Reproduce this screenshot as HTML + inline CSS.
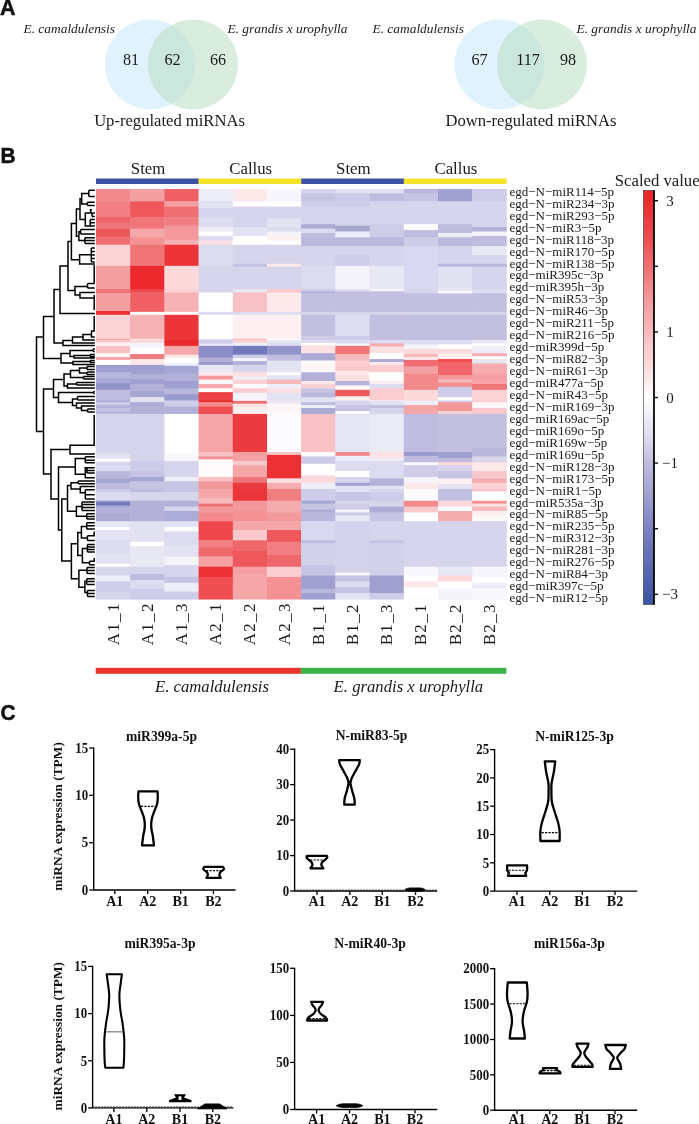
<!DOCTYPE html>
<html><head><meta charset="utf-8"><style>
html,body{margin:0;padding:0;background:#fff;width:699px;height:1124px;overflow:hidden}
svg{display:block;will-change:transform}
</style></head><body>
<svg width="699" height="1124" viewBox="0 0 699 1124">
<rect width="699" height="1124" fill="#fff"/>
<text x="0" y="15.4" font-family='"Liberation Sans", sans-serif' font-size="21.5" font-weight="bold" fill="#111" stroke="#111" stroke-width="0.5" transform="scale(1.0,1)">A</text>
<text x="0.5" y="163" font-family='"Liberation Sans", sans-serif' font-size="22" font-weight="bold" fill="#111" stroke="#111" stroke-width="0.5" transform="scale(0.95,1)">B</text>
<text x="0.5" y="720.5" font-family='"Liberation Sans", sans-serif' font-size="22" font-weight="bold" fill="#111" stroke="#111" stroke-width="0.5" transform="scale(0.95,1)">C</text>
<circle cx="150" cy="64.5" r="45" fill="#e0f2fd"/>
<circle cx="193" cy="64.5" r="45" fill="#d9edde" />
<path d="M171.5 24.96836709671608 A45 45 0 0 1 171.5 104.03163290328392 A45 45 0 0 1 171.5 24.96836709671608Z" fill="#cbe7dd"/>
<text x="131" y="65.4" font-family='"Liberation Serif", serif' font-size="16.2" fill="#1a1a1a" text-anchor="middle">81</text>
<text x="172.5" y="65.4" font-family='"Liberation Serif", serif' font-size="16.2" fill="#1a1a1a" text-anchor="middle">62</text>
<text x="218" y="65.4" font-family='"Liberation Serif", serif' font-size="16.2" fill="#1a1a1a" text-anchor="middle">66</text>
<text x="169.5" y="125.5" font-family='"Liberation Serif", serif' font-size="16.6" fill="#1a1a1a" text-anchor="middle">Up-regulated miRNAs</text>
<circle cx="499.5" cy="64.5" r="45" fill="#e0f2fd"/>
<circle cx="542" cy="64.5" r="45" fill="#d9edde" />
<path d="M520.75 24.833420868443923 A45 45 0 0 1 520.75 104.16657913155608 A45 45 0 0 1 520.75 24.833420868443923Z" fill="#cbe7dd"/>
<text x="479.5" y="65.4" font-family='"Liberation Serif", serif' font-size="16.2" fill="#1a1a1a" text-anchor="middle">67</text>
<text x="528" y="65.4" font-family='"Liberation Serif", serif' font-size="16.2" fill="#1a1a1a" text-anchor="middle">117</text>
<text x="568" y="65.4" font-family='"Liberation Serif", serif' font-size="16.2" fill="#1a1a1a" text-anchor="middle">98</text>
<text x="531" y="125.5" font-family='"Liberation Serif", serif' font-size="16.6" fill="#1a1a1a" text-anchor="middle">Down-regulated miRNAs</text>
<text x="23.5" y="33.2" font-family='"Liberation Serif", serif' font-style="italic" font-size="13.4" fill="#1a1a1a">E. camaldulensis</text>
<text x="227.5" y="33.2" font-family='"Liberation Serif", serif' font-style="italic" font-size="13.4" fill="#1a1a1a">E. grandis x urophylla</text>
<text x="372.5" y="33.2" font-family='"Liberation Serif", serif' font-style="italic" font-size="13.4" fill="#1a1a1a">E. camaldulensis</text>
<text x="576.5" y="33.2" font-family='"Liberation Serif", serif' font-style="italic" font-size="13.4" fill="#1a1a1a">E. grandis x urophylla</text>
<rect x="96.0" y="189.0" width="410.4" height="410.20000000000005" fill="#d6d5ec"/>
<rect x="96.00" y="189.00" width="34.50" height="12.62" fill="#f2898b"/>
<rect x="96.00" y="201.32" width="34.50" height="15.84" fill="#f17f82"/>
<rect x="96.00" y="216.86" width="34.50" height="6.17" fill="#ef676b"/>
<rect x="96.00" y="222.72" width="34.50" height="6.17" fill="#f07579"/>
<rect x="96.00" y="228.59" width="34.50" height="9.10" fill="#ee575b"/>
<rect x="96.00" y="237.39" width="34.50" height="7.63" fill="#ef6e72"/>
<rect x="96.00" y="244.72" width="34.50" height="21.41" fill="#fbd3d5"/>
<rect x="96.00" y="265.83" width="34.50" height="23.47" fill="#f4a0a3"/>
<rect x="130.20" y="189.00" width="34.50" height="12.62" fill="#f4a0a3"/>
<rect x="130.20" y="201.32" width="34.50" height="15.84" fill="#ee575b"/>
<rect x="130.20" y="216.86" width="34.50" height="12.03" fill="#f07579"/>
<rect x="130.20" y="228.59" width="34.50" height="9.10" fill="#f5a6a9"/>
<rect x="130.20" y="237.39" width="34.50" height="7.63" fill="#f39193"/>
<rect x="130.20" y="244.72" width="34.50" height="21.41" fill="#f07579"/>
<rect x="130.20" y="265.83" width="34.50" height="23.47" fill="#ec2a2e"/>
<rect x="164.40" y="189.00" width="34.50" height="12.62" fill="#ee6064"/>
<rect x="164.40" y="201.32" width="34.50" height="5.58" fill="#f4a0a3"/>
<rect x="164.40" y="206.60" width="34.50" height="10.56" fill="#ef6e72"/>
<rect x="164.40" y="216.86" width="34.50" height="9.10" fill="#f17f82"/>
<rect x="164.40" y="225.66" width="34.50" height="14.96" fill="#f3989b"/>
<rect x="164.40" y="240.32" width="34.50" height="4.70" fill="#f6b2b5"/>
<rect x="164.40" y="244.72" width="34.50" height="21.41" fill="#ec3538"/>
<rect x="164.40" y="265.83" width="34.50" height="23.47" fill="#fcdadc"/>
<rect x="198.60" y="189.00" width="34.50" height="12.62" fill="#eeeef8"/>
<rect x="198.60" y="201.32" width="34.50" height="7.04" fill="#e2e2f2"/>
<rect x="198.60" y="208.06" width="34.50" height="9.10" fill="#d6d5ec"/>
<rect x="198.60" y="216.86" width="34.50" height="10.56" fill="#dcdbef"/>
<rect x="198.60" y="227.12" width="34.50" height="4.70" fill="#eeeef8"/>
<rect x="198.60" y="231.52" width="34.50" height="4.70" fill="#ffffff"/>
<rect x="198.60" y="235.92" width="34.50" height="4.70" fill="#dcdbef"/>
<rect x="198.60" y="240.32" width="34.50" height="4.70" fill="#fce1e3"/>
<rect x="198.60" y="244.72" width="34.50" height="21.41" fill="#dcdbef"/>
<rect x="198.60" y="265.83" width="34.50" height="23.47" fill="#d6d5ec"/>
<rect x="232.80" y="189.00" width="34.50" height="12.62" fill="#fde8ea"/>
<rect x="232.80" y="201.32" width="34.50" height="5.58" fill="#ffffff"/>
<rect x="232.80" y="206.60" width="34.50" height="20.83" fill="#d6d5ec"/>
<rect x="232.80" y="227.12" width="34.50" height="9.10" fill="#e2e2f2"/>
<rect x="232.80" y="235.92" width="34.50" height="9.10" fill="#ffffff"/>
<rect x="232.80" y="244.72" width="34.50" height="19.36" fill="#d6d5ec"/>
<rect x="232.80" y="263.78" width="34.50" height="3.23" fill="#c6c3e3"/>
<rect x="232.80" y="266.71" width="34.50" height="22.59" fill="#d6d5ec"/>
<rect x="267.00" y="189.00" width="34.50" height="12.62" fill="#f6f6fc"/>
<rect x="267.00" y="201.32" width="34.50" height="5.58" fill="#ffffff"/>
<rect x="267.00" y="206.60" width="34.50" height="12.03" fill="#d6d5ec"/>
<rect x="267.00" y="218.33" width="34.50" height="9.10" fill="#e2e2f2"/>
<rect x="267.00" y="227.12" width="34.50" height="4.70" fill="#dcdbef"/>
<rect x="267.00" y="231.52" width="34.50" height="4.70" fill="#f4f4fa"/>
<rect x="267.00" y="235.92" width="34.50" height="4.70" fill="#fef0f1"/>
<rect x="267.00" y="240.32" width="34.50" height="4.70" fill="#ffffff"/>
<rect x="267.00" y="244.72" width="34.50" height="19.36" fill="#d6d5ec"/>
<rect x="267.00" y="263.78" width="34.50" height="3.23" fill="#fde8ea"/>
<rect x="267.00" y="266.71" width="34.50" height="22.59" fill="#d6d5ec"/>
<rect x="301.20" y="189.00" width="34.50" height="4.70" fill="#d6d5ec"/>
<rect x="301.20" y="193.40" width="34.50" height="8.22" fill="#c6c3e3"/>
<rect x="301.20" y="201.32" width="34.50" height="5.58" fill="#cecce8"/>
<rect x="301.20" y="206.60" width="34.50" height="17.90" fill="#d6d5ec"/>
<rect x="301.20" y="224.19" width="34.50" height="4.70" fill="#acabd6"/>
<rect x="301.20" y="228.59" width="34.50" height="4.70" fill="#dcdbef"/>
<rect x="301.20" y="232.99" width="34.50" height="4.70" fill="#bfbcdf"/>
<rect x="301.20" y="237.39" width="34.50" height="9.10" fill="#b9b7dc"/>
<rect x="301.20" y="246.18" width="34.50" height="19.95" fill="#d6d5ec"/>
<rect x="301.20" y="265.83" width="34.50" height="23.47" fill="#dcdbef"/>
<rect x="335.40" y="189.00" width="34.50" height="4.70" fill="#e2e2f2"/>
<rect x="335.40" y="193.40" width="34.50" height="8.22" fill="#cecce8"/>
<rect x="335.40" y="201.32" width="34.50" height="5.58" fill="#cecce8"/>
<rect x="335.40" y="206.60" width="34.50" height="19.36" fill="#d6d5ec"/>
<rect x="335.40" y="225.66" width="34.50" height="6.17" fill="#a6a6d3"/>
<rect x="335.40" y="231.52" width="34.50" height="6.17" fill="#eeeef8"/>
<rect x="335.40" y="237.39" width="34.50" height="9.10" fill="#b9b7dc"/>
<rect x="335.40" y="246.18" width="34.50" height="9.10" fill="#d6d5ec"/>
<rect x="335.40" y="254.98" width="34.50" height="11.15" fill="#cecce8"/>
<rect x="335.40" y="265.83" width="34.50" height="23.47" fill="#f4f4fa"/>
<rect x="369.60" y="189.00" width="34.50" height="4.70" fill="#e2e2f2"/>
<rect x="369.60" y="193.40" width="34.50" height="8.22" fill="#bfbcdf"/>
<rect x="369.60" y="201.32" width="34.50" height="23.17" fill="#d6d5ec"/>
<rect x="369.60" y="224.19" width="34.50" height="13.50" fill="#cecce8"/>
<rect x="369.60" y="237.39" width="34.50" height="9.10" fill="#b9b7dc"/>
<rect x="369.60" y="246.18" width="34.50" height="19.95" fill="#d6d5ec"/>
<rect x="369.60" y="265.83" width="34.50" height="23.47" fill="#e8e8f5"/>
<rect x="403.80" y="189.00" width="34.50" height="4.70" fill="#b9b7dc"/>
<rect x="403.80" y="193.40" width="34.50" height="8.22" fill="#c6c3e3"/>
<rect x="403.80" y="201.32" width="34.50" height="23.17" fill="#d6d5ec"/>
<rect x="403.80" y="224.19" width="34.50" height="6.17" fill="#ffffff"/>
<rect x="403.80" y="230.06" width="34.50" height="7.63" fill="#bfbcdf"/>
<rect x="403.80" y="237.39" width="34.50" height="9.10" fill="#cecce8"/>
<rect x="403.80" y="246.18" width="34.50" height="43.12" fill="#d9d8ee"/>
<rect x="438.00" y="189.00" width="34.50" height="12.62" fill="#a0a0d0"/>
<rect x="438.00" y="201.32" width="34.50" height="23.17" fill="#d6d5ec"/>
<rect x="438.00" y="224.19" width="34.50" height="9.10" fill="#bfbcdf"/>
<rect x="438.00" y="232.99" width="34.50" height="4.70" fill="#eeeef8"/>
<rect x="438.00" y="237.39" width="34.50" height="9.10" fill="#b9b7dc"/>
<rect x="438.00" y="246.18" width="34.50" height="17.90" fill="#d6d5ec"/>
<rect x="438.00" y="263.78" width="34.50" height="3.23" fill="#b9b7dc"/>
<rect x="438.00" y="266.71" width="34.50" height="22.59" fill="#e2e2f2"/>
<rect x="472.20" y="189.00" width="34.50" height="12.62" fill="#cecce8"/>
<rect x="472.20" y="201.32" width="34.50" height="26.11" fill="#d6d5ec"/>
<rect x="472.20" y="227.12" width="34.50" height="4.70" fill="#b3b1d9"/>
<rect x="472.20" y="231.52" width="34.50" height="4.70" fill="#f4f4fa"/>
<rect x="472.20" y="235.92" width="34.50" height="10.56" fill="#bfbcdf"/>
<rect x="472.20" y="246.18" width="34.50" height="9.10" fill="#e8e8f5"/>
<rect x="472.20" y="254.98" width="34.50" height="9.10" fill="#d6d5ec"/>
<rect x="472.20" y="263.78" width="34.50" height="3.23" fill="#b9b7dc"/>
<rect x="472.20" y="266.71" width="34.50" height="22.59" fill="#d6d5ec"/>
<rect x="96.00" y="289.00" width="34.50" height="4.70" fill="#f07579"/>
<rect x="96.00" y="293.40" width="34.50" height="17.90" fill="#f4a0a3"/>
<rect x="96.00" y="310.99" width="34.50" height="4.11" fill="#ec3033"/>
<rect x="96.00" y="314.81" width="34.50" height="24.35" fill="#fbd3d5"/>
<rect x="96.00" y="338.85" width="34.50" height="3.82" fill="#f5a6a9"/>
<rect x="96.00" y="342.37" width="34.50" height="4.11" fill="#eeeef8"/>
<rect x="96.00" y="346.18" width="34.50" height="7.63" fill="#f8c1c4"/>
<rect x="96.00" y="353.52" width="34.50" height="4.70" fill="#fef0f1"/>
<rect x="96.00" y="357.91" width="34.50" height="4.70" fill="#f3989b"/>
<rect x="96.00" y="362.31" width="34.50" height="3.82" fill="#ffffff"/>
<rect x="96.00" y="365.83" width="34.50" height="7.04" fill="#a0a0d0"/>
<rect x="96.00" y="372.58" width="34.50" height="4.70" fill="#b3b1d9"/>
<rect x="96.00" y="376.98" width="34.50" height="6.17" fill="#a6a6d3"/>
<rect x="96.00" y="382.84" width="34.50" height="6.46" fill="#9294ca"/>
<rect x="130.20" y="289.00" width="34.50" height="3.23" fill="#ee474b"/>
<rect x="130.20" y="291.93" width="34.50" height="20.24" fill="#ee6064"/>
<rect x="130.20" y="311.87" width="34.50" height="3.23" fill="#ffffff"/>
<rect x="130.20" y="314.81" width="34.50" height="24.35" fill="#f6b2b5"/>
<rect x="130.20" y="338.85" width="34.50" height="3.82" fill="#fde8ea"/>
<rect x="130.20" y="342.37" width="34.50" height="4.11" fill="#eeeef8"/>
<rect x="130.20" y="346.18" width="34.50" height="3.23" fill="#fcdadc"/>
<rect x="130.20" y="349.12" width="34.50" height="4.70" fill="#ffffff"/>
<rect x="130.20" y="353.52" width="34.50" height="6.17" fill="#f17f82"/>
<rect x="130.20" y="359.38" width="34.50" height="4.70" fill="#fcdadc"/>
<rect x="130.20" y="363.78" width="34.50" height="2.35" fill="#ffffff"/>
<rect x="130.20" y="365.83" width="34.50" height="23.47" fill="#a6a6d3"/>
<rect x="164.40" y="289.00" width="34.50" height="3.82" fill="#fbd3d5"/>
<rect x="164.40" y="292.52" width="34.50" height="19.65" fill="#f6b2b5"/>
<rect x="164.40" y="311.87" width="34.50" height="3.23" fill="#ffffff"/>
<rect x="164.40" y="314.81" width="34.50" height="28.75" fill="#ec3538"/>
<rect x="164.40" y="343.25" width="34.50" height="4.70" fill="#f7b9bc"/>
<rect x="164.40" y="347.65" width="34.50" height="7.63" fill="#f5a6a9"/>
<rect x="164.40" y="354.98" width="34.50" height="3.23" fill="#fce1e3"/>
<rect x="164.40" y="357.91" width="34.50" height="4.70" fill="#fef7f8"/>
<rect x="164.40" y="362.31" width="34.50" height="3.82" fill="#eeeef8"/>
<rect x="164.40" y="365.83" width="34.50" height="23.47" fill="#a6a6d3"/>
<rect x="198.60" y="289.00" width="34.50" height="3.82" fill="#d6d5ec"/>
<rect x="198.60" y="292.52" width="34.50" height="19.65" fill="#ffffff"/>
<rect x="198.60" y="311.87" width="34.50" height="3.23" fill="#dcdbef"/>
<rect x="198.60" y="314.81" width="34.50" height="24.35" fill="#ffffff"/>
<rect x="198.60" y="338.85" width="34.50" height="3.82" fill="#e2e2f2"/>
<rect x="198.60" y="342.37" width="34.50" height="4.11" fill="#b9b7dc"/>
<rect x="198.60" y="346.18" width="34.50" height="12.03" fill="#8488c4"/>
<rect x="198.60" y="357.91" width="34.50" height="4.70" fill="#b3b1d9"/>
<rect x="198.60" y="362.31" width="34.50" height="3.82" fill="#d6d5ec"/>
<rect x="198.60" y="365.83" width="34.50" height="8.51" fill="#eeeef8"/>
<rect x="198.60" y="374.04" width="34.50" height="4.70" fill="#f6b2b5"/>
<rect x="198.60" y="378.44" width="34.50" height="4.70" fill="#ffffff"/>
<rect x="198.60" y="382.84" width="34.50" height="4.70" fill="#f5a6a9"/>
<rect x="198.60" y="387.24" width="34.50" height="2.06" fill="#ffffff"/>
<rect x="232.80" y="289.00" width="34.50" height="3.82" fill="#e8e8f5"/>
<rect x="232.80" y="292.52" width="34.50" height="19.65" fill="#f8c1c4"/>
<rect x="232.80" y="311.87" width="34.50" height="3.23" fill="#dcdbef"/>
<rect x="232.80" y="314.81" width="34.50" height="24.35" fill="#fef0f1"/>
<rect x="232.80" y="338.85" width="34.50" height="3.82" fill="#f7b9bc"/>
<rect x="232.80" y="342.37" width="34.50" height="4.11" fill="#dcdbef"/>
<rect x="232.80" y="346.18" width="34.50" height="7.63" fill="#6b73b8"/>
<rect x="232.80" y="353.52" width="34.50" height="4.70" fill="#b3b1d9"/>
<rect x="232.80" y="357.91" width="34.50" height="4.70" fill="#e2e2f2"/>
<rect x="232.80" y="362.31" width="34.50" height="3.82" fill="#acabd6"/>
<rect x="232.80" y="365.83" width="34.50" height="7.04" fill="#d6d5ec"/>
<rect x="232.80" y="372.58" width="34.50" height="4.70" fill="#fcdadc"/>
<rect x="232.80" y="376.98" width="34.50" height="6.17" fill="#e8e8f5"/>
<rect x="232.80" y="382.84" width="34.50" height="6.46" fill="#f9c8cb"/>
<rect x="267.00" y="289.00" width="34.50" height="3.82" fill="#f9c8cb"/>
<rect x="267.00" y="292.52" width="34.50" height="19.65" fill="#fde8ea"/>
<rect x="267.00" y="311.87" width="34.50" height="3.23" fill="#dcdbef"/>
<rect x="267.00" y="314.81" width="34.50" height="24.35" fill="#fef0f1"/>
<rect x="267.00" y="338.85" width="34.50" height="3.82" fill="#ffffff"/>
<rect x="267.00" y="342.37" width="34.50" height="4.11" fill="#bfbcdf"/>
<rect x="267.00" y="346.18" width="34.50" height="12.03" fill="#8b8ec7"/>
<rect x="267.00" y="357.91" width="34.50" height="4.70" fill="#b3b1d9"/>
<rect x="267.00" y="362.31" width="34.50" height="3.82" fill="#e2e2f2"/>
<rect x="267.00" y="365.83" width="34.50" height="8.51" fill="#e2e2f2"/>
<rect x="267.00" y="374.04" width="34.50" height="4.70" fill="#ffffff"/>
<rect x="267.00" y="378.44" width="34.50" height="4.70" fill="#e8e8f5"/>
<rect x="267.00" y="382.84" width="34.50" height="4.70" fill="#f5a6a9"/>
<rect x="267.00" y="387.24" width="34.50" height="2.06" fill="#eeeef8"/>
<rect x="301.20" y="289.00" width="34.50" height="2.65" fill="#cecce8"/>
<rect x="301.20" y="291.35" width="34.50" height="2.35" fill="#b3b1d9"/>
<rect x="301.20" y="293.40" width="34.50" height="18.78" fill="#c2bfe1"/>
<rect x="301.20" y="311.87" width="34.50" height="3.23" fill="#d6d5ec"/>
<rect x="301.20" y="314.81" width="34.50" height="21.41" fill="#c2bfe1"/>
<rect x="301.20" y="335.92" width="34.50" height="5.58" fill="#cecce8"/>
<rect x="301.20" y="341.20" width="34.50" height="5.29" fill="#f9f9fd"/>
<rect x="301.20" y="346.18" width="34.50" height="3.23" fill="#fce1e3"/>
<rect x="301.20" y="349.12" width="34.50" height="5.29" fill="#faced0"/>
<rect x="301.20" y="354.10" width="34.50" height="7.04" fill="#acabd6"/>
<rect x="301.20" y="360.85" width="34.50" height="4.11" fill="#fef0f1"/>
<rect x="301.20" y="364.66" width="34.50" height="6.75" fill="#ffffff"/>
<rect x="301.20" y="371.11" width="34.50" height="6.17" fill="#e2e2f2"/>
<rect x="301.20" y="376.98" width="34.50" height="4.70" fill="#bfbcdf"/>
<rect x="301.20" y="381.38" width="34.50" height="4.70" fill="#fcdadc"/>
<rect x="301.20" y="385.77" width="34.50" height="3.53" fill="#eeeef8"/>
<rect x="335.40" y="289.00" width="34.50" height="2.65" fill="#e2e2f2"/>
<rect x="335.40" y="291.35" width="34.50" height="20.83" fill="#c2bfe1"/>
<rect x="335.40" y="311.87" width="34.50" height="3.23" fill="#d6d5ec"/>
<rect x="335.40" y="314.81" width="34.50" height="21.41" fill="#dfdef0"/>
<rect x="335.40" y="335.92" width="34.50" height="9.10" fill="#cecce8"/>
<rect x="335.40" y="344.72" width="34.50" height="3.23" fill="#fbd3d5"/>
<rect x="335.40" y="347.65" width="34.50" height="6.75" fill="#f07579"/>
<rect x="335.40" y="354.10" width="34.50" height="7.04" fill="#f7b9bc"/>
<rect x="335.40" y="360.85" width="34.50" height="5.29" fill="#fcdadc"/>
<rect x="335.40" y="365.83" width="34.50" height="7.04" fill="#f9c8cb"/>
<rect x="335.40" y="372.58" width="34.50" height="4.70" fill="#fde8ea"/>
<rect x="335.40" y="376.98" width="34.50" height="4.70" fill="#fef7f8"/>
<rect x="335.40" y="381.38" width="34.50" height="4.70" fill="#b3b1d9"/>
<rect x="335.40" y="385.77" width="34.50" height="3.53" fill="#e2e2f2"/>
<rect x="369.60" y="289.00" width="34.50" height="2.65" fill="#f4f4fa"/>
<rect x="369.60" y="291.35" width="34.50" height="20.83" fill="#c2bfe1"/>
<rect x="369.60" y="311.87" width="34.50" height="3.23" fill="#d6d5ec"/>
<rect x="369.60" y="314.81" width="34.50" height="26.69" fill="#c2bfe1"/>
<rect x="369.60" y="341.20" width="34.50" height="5.29" fill="#f5acaf"/>
<rect x="369.60" y="346.18" width="34.50" height="9.10" fill="#fce1e3"/>
<rect x="369.60" y="354.98" width="34.50" height="4.70" fill="#ffffff"/>
<rect x="369.60" y="359.38" width="34.50" height="3.23" fill="#a0a0d0"/>
<rect x="369.60" y="362.31" width="34.50" height="3.82" fill="#fde8ea"/>
<rect x="369.60" y="365.83" width="34.50" height="7.04" fill="#f9c8cb"/>
<rect x="369.60" y="372.58" width="34.50" height="9.10" fill="#ffffff"/>
<rect x="369.60" y="381.38" width="34.50" height="4.70" fill="#dcdbef"/>
<rect x="369.60" y="385.77" width="34.50" height="3.53" fill="#fef0f1"/>
<rect x="403.80" y="289.00" width="34.50" height="4.70" fill="#d6d5ec"/>
<rect x="403.80" y="293.40" width="34.50" height="18.78" fill="#c2bfe1"/>
<rect x="403.80" y="311.87" width="34.50" height="3.23" fill="#d6d5ec"/>
<rect x="403.80" y="314.81" width="34.50" height="27.28" fill="#c2bfe1"/>
<rect x="403.80" y="341.79" width="34.50" height="3.82" fill="#e2e2f2"/>
<rect x="403.80" y="345.30" width="34.50" height="3.23" fill="#f4f4fa"/>
<rect x="403.80" y="348.24" width="34.50" height="6.17" fill="#fbd3d5"/>
<rect x="403.80" y="354.10" width="34.50" height="5.58" fill="#f6b2b5"/>
<rect x="403.80" y="359.38" width="34.50" height="6.75" fill="#ee4d51"/>
<rect x="403.80" y="365.83" width="34.50" height="8.51" fill="#f5a6a9"/>
<rect x="403.80" y="374.04" width="34.50" height="15.26" fill="#f2898b"/>
<rect x="438.00" y="289.00" width="34.50" height="2.65" fill="#e8e8f5"/>
<rect x="438.00" y="291.35" width="34.50" height="2.35" fill="#ffffff"/>
<rect x="438.00" y="293.40" width="34.50" height="18.78" fill="#c2bfe1"/>
<rect x="438.00" y="311.87" width="34.50" height="3.23" fill="#d6d5ec"/>
<rect x="438.00" y="314.81" width="34.50" height="27.28" fill="#c2bfe1"/>
<rect x="438.00" y="341.79" width="34.50" height="3.82" fill="#eeeef8"/>
<rect x="438.00" y="345.30" width="34.50" height="3.23" fill="#fef7f8"/>
<rect x="438.00" y="348.24" width="34.50" height="6.17" fill="#fbd3d5"/>
<rect x="438.00" y="354.10" width="34.50" height="5.58" fill="#fde8ea"/>
<rect x="438.00" y="359.38" width="34.50" height="3.23" fill="#ec3b3e"/>
<rect x="438.00" y="362.31" width="34.50" height="13.50" fill="#ee6064"/>
<rect x="438.00" y="375.51" width="34.50" height="4.70" fill="#f5a6a9"/>
<rect x="438.00" y="379.91" width="34.50" height="4.70" fill="#f39193"/>
<rect x="438.00" y="384.31" width="34.50" height="4.99" fill="#e8e8f5"/>
<rect x="472.20" y="289.00" width="34.50" height="4.70" fill="#dcdbef"/>
<rect x="472.20" y="293.40" width="34.50" height="18.78" fill="#c2bfe1"/>
<rect x="472.20" y="311.87" width="34.50" height="3.23" fill="#d6d5ec"/>
<rect x="472.20" y="314.81" width="34.50" height="27.28" fill="#c2bfe1"/>
<rect x="472.20" y="341.79" width="34.50" height="3.82" fill="#ffffff"/>
<rect x="472.20" y="345.30" width="34.50" height="4.11" fill="#b9b7dc"/>
<rect x="472.20" y="349.12" width="34.50" height="5.29" fill="#ffffff"/>
<rect x="472.20" y="354.10" width="34.50" height="5.58" fill="#f7b9bc"/>
<rect x="472.20" y="359.38" width="34.50" height="4.70" fill="#e2e2f2"/>
<rect x="472.20" y="363.78" width="34.50" height="10.56" fill="#f5acaf"/>
<rect x="472.20" y="374.04" width="34.50" height="9.10" fill="#f4a0a3"/>
<rect x="472.20" y="382.84" width="34.50" height="6.46" fill="#ef6e72"/>
<rect x="96.00" y="389.00" width="34.50" height="1.77" fill="#a6a6d3"/>
<rect x="96.00" y="390.47" width="34.50" height="9.10" fill="#c6c3e3"/>
<rect x="96.00" y="399.26" width="34.50" height="3.23" fill="#acabd6"/>
<rect x="96.00" y="402.20" width="34.50" height="3.23" fill="#cecce8"/>
<rect x="96.00" y="405.13" width="34.50" height="3.23" fill="#b3b1d9"/>
<rect x="96.00" y="408.06" width="34.50" height="3.23" fill="#c6c3e3"/>
<rect x="96.00" y="410.99" width="34.50" height="3.23" fill="#b9b7dc"/>
<rect x="96.00" y="413.93" width="34.50" height="39.89" fill="#d6d5ec"/>
<rect x="96.00" y="453.52" width="34.50" height="5.58" fill="#e2e2f2"/>
<rect x="96.00" y="458.79" width="34.50" height="3.23" fill="#ffffff"/>
<rect x="96.00" y="461.73" width="34.50" height="3.82" fill="#d6d5ec"/>
<rect x="96.00" y="465.25" width="34.50" height="6.17" fill="#dcdbef"/>
<rect x="96.00" y="471.11" width="34.50" height="7.63" fill="#b9b7dc"/>
<rect x="96.00" y="478.44" width="34.50" height="4.70" fill="#a6a6d3"/>
<rect x="96.00" y="482.84" width="34.50" height="6.46" fill="#bfbcdf"/>
<rect x="130.20" y="389.00" width="34.50" height="6.17" fill="#999acd"/>
<rect x="130.20" y="394.87" width="34.50" height="7.63" fill="#e2e2f2"/>
<rect x="130.20" y="402.20" width="34.50" height="4.70" fill="#acabd6"/>
<rect x="130.20" y="406.60" width="34.50" height="7.63" fill="#b3b1d9"/>
<rect x="130.20" y="413.93" width="34.50" height="47.22" fill="#d6d5ec"/>
<rect x="130.20" y="460.85" width="34.50" height="10.56" fill="#cecce8"/>
<rect x="130.20" y="471.11" width="34.50" height="6.17" fill="#c6c3e3"/>
<rect x="130.20" y="476.98" width="34.50" height="4.70" fill="#a6a6d3"/>
<rect x="130.20" y="481.38" width="34.50" height="7.92" fill="#c6c3e3"/>
<rect x="164.40" y="389.00" width="34.50" height="7.63" fill="#b3b1d9"/>
<rect x="164.40" y="396.33" width="34.50" height="3.23" fill="#9294ca"/>
<rect x="164.40" y="399.26" width="34.50" height="7.63" fill="#cecce8"/>
<rect x="164.40" y="406.60" width="34.50" height="7.63" fill="#b3b1d9"/>
<rect x="164.40" y="413.93" width="34.50" height="39.89" fill="#ffffff"/>
<rect x="164.40" y="453.52" width="34.50" height="7.63" fill="#f9f9fd"/>
<rect x="164.40" y="460.85" width="34.50" height="16.43" fill="#d6d5ec"/>
<rect x="164.40" y="476.98" width="34.50" height="4.70" fill="#eeeef8"/>
<rect x="164.40" y="481.38" width="34.50" height="7.92" fill="#c6c3e3"/>
<rect x="198.60" y="389.00" width="34.50" height="6.17" fill="#f3989b"/>
<rect x="198.60" y="394.87" width="34.50" height="7.63" fill="#ec2a2e"/>
<rect x="198.60" y="402.20" width="34.50" height="4.70" fill="#f2898b"/>
<rect x="198.60" y="406.60" width="34.50" height="7.63" fill="#ee4d51"/>
<rect x="198.60" y="413.93" width="34.50" height="38.42" fill="#f5a6a9"/>
<rect x="198.60" y="452.05" width="34.50" height="4.70" fill="#f8c1c4"/>
<rect x="198.60" y="456.45" width="34.50" height="3.23" fill="#f39193"/>
<rect x="198.60" y="459.38" width="34.50" height="17.90" fill="#fffbfc"/>
<rect x="198.60" y="476.98" width="34.50" height="4.70" fill="#f8c1c4"/>
<rect x="198.60" y="481.38" width="34.50" height="7.92" fill="#f3989b"/>
<rect x="232.80" y="389.00" width="34.50" height="6.17" fill="#dcdbef"/>
<rect x="232.80" y="394.87" width="34.50" height="6.17" fill="#fef7f8"/>
<rect x="232.80" y="400.73" width="34.50" height="3.23" fill="#ef6e72"/>
<rect x="232.80" y="403.66" width="34.50" height="3.23" fill="#fce1e3"/>
<rect x="232.80" y="406.60" width="34.50" height="7.63" fill="#fef0f1"/>
<rect x="232.80" y="413.93" width="34.50" height="38.42" fill="#ec3b3e"/>
<rect x="232.80" y="452.05" width="34.50" height="9.10" fill="#f4a0a3"/>
<rect x="232.80" y="460.85" width="34.50" height="4.70" fill="#f9c8cb"/>
<rect x="232.80" y="465.25" width="34.50" height="12.03" fill="#f5a6a9"/>
<rect x="232.80" y="476.98" width="34.50" height="6.17" fill="#f07579"/>
<rect x="232.80" y="482.84" width="34.50" height="6.46" fill="#ec3b3e"/>
<rect x="267.00" y="389.00" width="34.50" height="6.17" fill="#cecce8"/>
<rect x="267.00" y="394.87" width="34.50" height="6.17" fill="#fce1e3"/>
<rect x="267.00" y="400.73" width="34.50" height="3.23" fill="#e8e8f5"/>
<rect x="267.00" y="403.66" width="34.50" height="10.56" fill="#fef7f8"/>
<rect x="267.00" y="413.93" width="34.50" height="38.42" fill="#fcfcfe"/>
<rect x="267.00" y="452.05" width="34.50" height="3.23" fill="#f8c1c4"/>
<rect x="267.00" y="454.98" width="34.50" height="23.76" fill="#ec3033"/>
<rect x="267.00" y="478.44" width="34.50" height="4.70" fill="#fce1e3"/>
<rect x="267.00" y="482.84" width="34.50" height="6.46" fill="#f5acaf"/>
<rect x="301.20" y="389.00" width="34.50" height="7.63" fill="#cecce8"/>
<rect x="301.20" y="396.33" width="34.50" height="3.23" fill="#b3b1d9"/>
<rect x="301.20" y="399.26" width="34.50" height="3.23" fill="#e2e2f2"/>
<rect x="301.20" y="402.20" width="34.50" height="3.23" fill="#bfbcdf"/>
<rect x="301.20" y="405.13" width="34.50" height="3.23" fill="#eeeef8"/>
<rect x="301.20" y="408.06" width="34.50" height="6.17" fill="#acabd6"/>
<rect x="301.20" y="413.93" width="34.50" height="38.42" fill="#f8c1c4"/>
<rect x="301.20" y="452.05" width="34.50" height="4.70" fill="#ffffff"/>
<rect x="301.20" y="456.45" width="34.50" height="7.63" fill="#cecce8"/>
<rect x="301.20" y="463.78" width="34.50" height="12.03" fill="#ffffff"/>
<rect x="301.20" y="475.51" width="34.50" height="7.63" fill="#fcdadc"/>
<rect x="301.20" y="482.84" width="34.50" height="6.46" fill="#eeeef8"/>
<rect x="335.40" y="389.00" width="34.50" height="6.75" fill="#ee4d51"/>
<rect x="335.40" y="395.45" width="34.50" height="4.11" fill="#fbd3d5"/>
<rect x="335.40" y="399.26" width="34.50" height="6.17" fill="#d6d5ec"/>
<rect x="335.40" y="405.13" width="34.50" height="6.17" fill="#c6c3e3"/>
<rect x="335.40" y="410.99" width="34.50" height="3.23" fill="#ffffff"/>
<rect x="335.40" y="413.93" width="34.50" height="38.42" fill="#e5e5f4"/>
<rect x="335.40" y="452.05" width="34.50" height="4.11" fill="#f2898b"/>
<rect x="335.40" y="455.86" width="34.50" height="5.29" fill="#eeeef8"/>
<rect x="335.40" y="460.85" width="34.50" height="10.56" fill="#dcdbef"/>
<rect x="335.40" y="471.11" width="34.50" height="6.17" fill="#ffffff"/>
<rect x="335.40" y="476.98" width="34.50" height="6.17" fill="#d6d5ec"/>
<rect x="335.40" y="482.84" width="34.50" height="3.23" fill="#a0a0d0"/>
<rect x="335.40" y="485.77" width="34.50" height="3.53" fill="#e2e2f2"/>
<rect x="369.60" y="389.00" width="34.50" height="7.63" fill="#f9c8cb"/>
<rect x="369.60" y="396.33" width="34.50" height="4.70" fill="#ffffff"/>
<rect x="369.60" y="400.73" width="34.50" height="4.70" fill="#e2e2f2"/>
<rect x="369.60" y="405.13" width="34.50" height="3.23" fill="#bfbcdf"/>
<rect x="369.60" y="408.06" width="34.50" height="6.17" fill="#d6d5ec"/>
<rect x="369.60" y="413.93" width="34.50" height="38.42" fill="#ebebf6"/>
<rect x="369.60" y="452.05" width="34.50" height="6.17" fill="#fce1e3"/>
<rect x="369.60" y="457.91" width="34.50" height="3.23" fill="#eeeef8"/>
<rect x="369.60" y="460.85" width="34.50" height="17.90" fill="#dcdbef"/>
<rect x="369.60" y="478.44" width="34.50" height="7.63" fill="#b3b1d9"/>
<rect x="369.60" y="485.77" width="34.50" height="3.53" fill="#e2e2f2"/>
<rect x="403.80" y="389.00" width="34.50" height="6.75" fill="#f8c1c4"/>
<rect x="403.80" y="395.45" width="34.50" height="5.58" fill="#fce1e3"/>
<rect x="403.80" y="400.73" width="34.50" height="4.70" fill="#eeeef8"/>
<rect x="403.80" y="405.13" width="34.50" height="9.10" fill="#f5a6a9"/>
<rect x="403.80" y="413.93" width="34.50" height="38.42" fill="#bfbcdf"/>
<rect x="403.80" y="452.05" width="34.50" height="4.11" fill="#999acd"/>
<rect x="403.80" y="455.86" width="34.50" height="6.75" fill="#bfbcdf"/>
<rect x="403.80" y="462.31" width="34.50" height="3.23" fill="#f9f9fd"/>
<rect x="403.80" y="465.25" width="34.50" height="12.03" fill="#cecce8"/>
<rect x="403.80" y="476.98" width="34.50" height="6.17" fill="#f4f4fa"/>
<rect x="403.80" y="482.84" width="34.50" height="6.46" fill="#fde8ea"/>
<rect x="438.00" y="389.00" width="34.50" height="6.17" fill="#cecce8"/>
<rect x="438.00" y="394.87" width="34.50" height="4.70" fill="#ffffff"/>
<rect x="438.00" y="399.26" width="34.50" height="3.23" fill="#d6d5ec"/>
<rect x="438.00" y="402.20" width="34.50" height="9.10" fill="#f3989b"/>
<rect x="438.00" y="410.99" width="34.50" height="3.23" fill="#fbd3d5"/>
<rect x="438.00" y="413.93" width="34.50" height="38.42" fill="#c2bfe1"/>
<rect x="438.00" y="452.05" width="34.50" height="6.17" fill="#a0a0d0"/>
<rect x="438.00" y="457.91" width="34.50" height="4.70" fill="#bfbcdf"/>
<rect x="438.00" y="462.31" width="34.50" height="3.23" fill="#fcdadc"/>
<rect x="438.00" y="465.25" width="34.50" height="6.17" fill="#d6d5ec"/>
<rect x="438.00" y="471.11" width="34.50" height="7.63" fill="#c6c3e3"/>
<rect x="438.00" y="478.44" width="34.50" height="6.17" fill="#fef0f1"/>
<rect x="438.00" y="484.31" width="34.50" height="4.99" fill="#e2e2f2"/>
<rect x="472.20" y="389.00" width="34.50" height="6.17" fill="#fbd3d5"/>
<rect x="472.20" y="394.87" width="34.50" height="7.63" fill="#faced0"/>
<rect x="472.20" y="402.20" width="34.50" height="6.17" fill="#fef7f8"/>
<rect x="472.20" y="408.06" width="34.50" height="6.17" fill="#f9c8cb"/>
<rect x="472.20" y="413.93" width="34.50" height="34.02" fill="#c2bfe1"/>
<rect x="472.20" y="447.65" width="34.50" height="9.10" fill="#b9b7dc"/>
<rect x="472.20" y="456.45" width="34.50" height="6.17" fill="#d6d5ec"/>
<rect x="472.20" y="462.31" width="34.50" height="9.10" fill="#fde8ea"/>
<rect x="472.20" y="471.11" width="34.50" height="7.63" fill="#f9c8cb"/>
<rect x="472.20" y="478.44" width="34.50" height="4.70" fill="#f5acaf"/>
<rect x="472.20" y="482.84" width="34.50" height="6.46" fill="#fbd3d5"/>
<rect x="96.00" y="489.00" width="34.50" height="3.23" fill="#cecce8"/>
<rect x="96.00" y="491.93" width="34.50" height="9.10" fill="#dcdbef"/>
<rect x="96.00" y="500.73" width="34.50" height="1.77" fill="#9294ca"/>
<rect x="96.00" y="502.20" width="34.50" height="3.23" fill="#7178bb"/>
<rect x="96.00" y="505.13" width="34.50" height="1.77" fill="#9294ca"/>
<rect x="96.00" y="506.60" width="34.50" height="6.17" fill="#b3b1d9"/>
<rect x="96.00" y="512.46" width="34.50" height="9.10" fill="#acabd6"/>
<rect x="96.00" y="521.26" width="34.50" height="6.17" fill="#e8e8f5"/>
<rect x="96.00" y="527.12" width="34.50" height="3.23" fill="#ffffff"/>
<rect x="96.00" y="530.06" width="34.50" height="10.56" fill="#e2e2f2"/>
<rect x="96.00" y="540.32" width="34.50" height="13.50" fill="#dcdbef"/>
<rect x="96.00" y="553.52" width="34.50" height="10.56" fill="#e2e2f2"/>
<rect x="96.00" y="563.78" width="34.50" height="3.23" fill="#ffffff"/>
<rect x="96.00" y="566.71" width="34.50" height="9.10" fill="#d6d5ec"/>
<rect x="96.00" y="575.51" width="34.50" height="6.17" fill="#eeeef8"/>
<rect x="96.00" y="581.38" width="34.50" height="10.56" fill="#cecce8"/>
<rect x="96.00" y="591.64" width="34.50" height="7.86" fill="#d6d5ec"/>
<rect x="130.20" y="489.00" width="34.50" height="3.23" fill="#bfbcdf"/>
<rect x="130.20" y="491.93" width="34.50" height="9.10" fill="#d6d5ec"/>
<rect x="130.20" y="500.73" width="34.50" height="20.83" fill="#b3b1d9"/>
<rect x="130.20" y="521.26" width="34.50" height="9.10" fill="#e2e2f2"/>
<rect x="130.20" y="530.06" width="34.50" height="12.03" fill="#e2e2f2"/>
<rect x="130.20" y="541.79" width="34.50" height="4.70" fill="#ffffff"/>
<rect x="130.20" y="546.18" width="34.50" height="20.83" fill="#e8e8f5"/>
<rect x="130.20" y="566.71" width="34.50" height="7.63" fill="#d6d5ec"/>
<rect x="130.20" y="574.04" width="34.50" height="6.17" fill="#bfbcdf"/>
<rect x="130.20" y="579.91" width="34.50" height="9.10" fill="#dcdbef"/>
<rect x="130.20" y="588.71" width="34.50" height="10.79" fill="#cecce8"/>
<rect x="164.40" y="489.00" width="34.50" height="3.23" fill="#c6c3e3"/>
<rect x="164.40" y="491.93" width="34.50" height="9.10" fill="#d6d5ec"/>
<rect x="164.40" y="500.73" width="34.50" height="6.17" fill="#b3b1d9"/>
<rect x="164.40" y="506.60" width="34.50" height="4.70" fill="#d6d5ec"/>
<rect x="164.40" y="510.99" width="34.50" height="10.56" fill="#acabd6"/>
<rect x="164.40" y="521.26" width="34.50" height="6.17" fill="#e2e2f2"/>
<rect x="164.40" y="527.12" width="34.50" height="4.70" fill="#ffffff"/>
<rect x="164.40" y="531.52" width="34.50" height="13.50" fill="#dcdbef"/>
<rect x="164.40" y="544.72" width="34.50" height="12.03" fill="#e2e2f2"/>
<rect x="164.40" y="556.45" width="34.50" height="9.10" fill="#f4f4fa"/>
<rect x="164.40" y="565.25" width="34.50" height="12.03" fill="#d6d5ec"/>
<rect x="164.40" y="576.98" width="34.50" height="6.17" fill="#c6c3e3"/>
<rect x="164.40" y="582.84" width="34.50" height="9.10" fill="#eeeef8"/>
<rect x="164.40" y="591.64" width="34.50" height="7.86" fill="#cecce8"/>
<rect x="198.60" y="489.00" width="34.50" height="9.10" fill="#f5a6a9"/>
<rect x="198.60" y="497.80" width="34.50" height="6.17" fill="#f7b9bc"/>
<rect x="198.60" y="503.66" width="34.50" height="3.23" fill="#ef6e72"/>
<rect x="198.60" y="506.60" width="34.50" height="6.17" fill="#f3989b"/>
<rect x="198.60" y="512.46" width="34.50" height="9.10" fill="#f2898b"/>
<rect x="198.60" y="521.26" width="34.50" height="19.36" fill="#ee474b"/>
<rect x="198.60" y="540.32" width="34.50" height="7.63" fill="#f17f82"/>
<rect x="198.60" y="547.65" width="34.50" height="9.10" fill="#ef676b"/>
<rect x="198.60" y="556.45" width="34.50" height="10.56" fill="#f4a0a3"/>
<rect x="198.60" y="566.71" width="34.50" height="10.56" fill="#ec3033"/>
<rect x="198.60" y="576.98" width="34.50" height="22.52" fill="#ee4d51"/>
<rect x="232.80" y="489.00" width="34.50" height="12.03" fill="#ec3538"/>
<rect x="232.80" y="500.73" width="34.50" height="10.56" fill="#f3989b"/>
<rect x="232.80" y="510.99" width="34.50" height="10.56" fill="#f39193"/>
<rect x="232.80" y="521.26" width="34.50" height="9.10" fill="#f5a6a9"/>
<rect x="232.80" y="530.06" width="34.50" height="10.56" fill="#f9c8cb"/>
<rect x="232.80" y="540.32" width="34.50" height="10.56" fill="#ef676b"/>
<rect x="232.80" y="550.58" width="34.50" height="16.43" fill="#ee575b"/>
<rect x="232.80" y="566.71" width="34.50" height="7.63" fill="#f4a0a3"/>
<rect x="232.80" y="574.04" width="34.50" height="25.46" fill="#f5a6a9"/>
<rect x="267.00" y="489.00" width="34.50" height="12.03" fill="#f17f82"/>
<rect x="267.00" y="500.73" width="34.50" height="12.03" fill="#f5acaf"/>
<rect x="267.00" y="512.46" width="34.50" height="9.10" fill="#f3989b"/>
<rect x="267.00" y="521.26" width="34.50" height="9.10" fill="#f5a6a9"/>
<rect x="267.00" y="530.06" width="34.50" height="12.03" fill="#ee575b"/>
<rect x="267.00" y="541.79" width="34.50" height="13.50" fill="#f17f82"/>
<rect x="267.00" y="554.98" width="34.50" height="12.03" fill="#ef676b"/>
<rect x="267.00" y="566.71" width="34.50" height="10.56" fill="#faced0"/>
<rect x="267.00" y="576.98" width="34.50" height="22.52" fill="#f39193"/>
<rect x="301.20" y="489.00" width="34.50" height="12.03" fill="#cecce8"/>
<rect x="301.20" y="500.73" width="34.50" height="3.23" fill="#a6a6d3"/>
<rect x="301.20" y="503.66" width="34.50" height="6.17" fill="#c6c3e3"/>
<rect x="301.20" y="509.53" width="34.50" height="3.23" fill="#acabd6"/>
<rect x="301.20" y="512.46" width="34.50" height="9.10" fill="#b9b7dc"/>
<rect x="301.20" y="521.26" width="34.50" height="19.36" fill="#d9d8ee"/>
<rect x="301.20" y="540.32" width="34.50" height="3.23" fill="#bfbcdf"/>
<rect x="301.20" y="543.25" width="34.50" height="22.29" fill="#d2d1ea"/>
<rect x="301.20" y="565.25" width="34.50" height="10.56" fill="#c6c3e3"/>
<rect x="301.20" y="575.51" width="34.50" height="13.50" fill="#a0a0d0"/>
<rect x="301.20" y="588.71" width="34.50" height="4.70" fill="#b9b7dc"/>
<rect x="301.20" y="593.11" width="34.50" height="6.39" fill="#a0a0d0"/>
<rect x="335.40" y="489.00" width="34.50" height="3.23" fill="#e2e2f2"/>
<rect x="335.40" y="491.93" width="34.50" height="9.10" fill="#c6c3e3"/>
<rect x="335.40" y="500.73" width="34.50" height="3.23" fill="#d6d5ec"/>
<rect x="335.40" y="503.66" width="34.50" height="6.17" fill="#cecce8"/>
<rect x="335.40" y="509.53" width="34.50" height="3.23" fill="#f4f4fa"/>
<rect x="335.40" y="512.46" width="34.50" height="3.23" fill="#cecce8"/>
<rect x="335.40" y="515.39" width="34.50" height="6.17" fill="#e8e8f5"/>
<rect x="335.40" y="521.26" width="34.50" height="51.62" fill="#d4d3eb"/>
<rect x="335.40" y="572.58" width="34.50" height="3.23" fill="#f9f9fd"/>
<rect x="335.40" y="575.51" width="34.50" height="6.17" fill="#c6c3e3"/>
<rect x="335.40" y="581.38" width="34.50" height="6.17" fill="#dcdbef"/>
<rect x="335.40" y="587.24" width="34.50" height="6.17" fill="#c6c3e3"/>
<rect x="335.40" y="593.11" width="34.50" height="6.39" fill="#e2e2f2"/>
<rect x="369.60" y="489.00" width="34.50" height="3.23" fill="#d6d5ec"/>
<rect x="369.60" y="491.93" width="34.50" height="9.10" fill="#cecce8"/>
<rect x="369.60" y="500.73" width="34.50" height="6.17" fill="#d6d5ec"/>
<rect x="369.60" y="506.60" width="34.50" height="6.17" fill="#acabd6"/>
<rect x="369.60" y="512.46" width="34.50" height="9.10" fill="#c6c3e3"/>
<rect x="369.60" y="521.26" width="34.50" height="19.36" fill="#d6d5ec"/>
<rect x="369.60" y="540.32" width="34.50" height="3.23" fill="#c6c3e3"/>
<rect x="369.60" y="543.25" width="34.50" height="32.56" fill="#d2d1ea"/>
<rect x="369.60" y="575.51" width="34.50" height="17.90" fill="#a0a0d0"/>
<rect x="369.60" y="593.11" width="34.50" height="6.39" fill="#cecce8"/>
<rect x="403.80" y="489.00" width="34.50" height="12.03" fill="#fcfcfe"/>
<rect x="403.80" y="500.73" width="34.50" height="6.17" fill="#f2898b"/>
<rect x="403.80" y="506.60" width="34.50" height="6.17" fill="#f9c8cb"/>
<rect x="403.80" y="512.46" width="34.50" height="9.10" fill="#ffffff"/>
<rect x="403.80" y="521.26" width="34.50" height="45.75" fill="#d6d5ec"/>
<rect x="403.80" y="566.71" width="34.50" height="9.10" fill="#f6f6fc"/>
<rect x="403.80" y="575.51" width="34.50" height="6.17" fill="#ffffff"/>
<rect x="403.80" y="581.38" width="34.50" height="6.17" fill="#fde8ea"/>
<rect x="403.80" y="587.24" width="34.50" height="12.26" fill="#ffffff"/>
<rect x="438.00" y="489.00" width="34.50" height="12.03" fill="#c2bfe1"/>
<rect x="438.00" y="500.73" width="34.50" height="6.17" fill="#fcdadc"/>
<rect x="438.00" y="506.60" width="34.50" height="4.70" fill="#ffffff"/>
<rect x="438.00" y="510.99" width="34.50" height="10.56" fill="#f5acaf"/>
<rect x="438.00" y="521.26" width="34.50" height="45.75" fill="#d6d5ec"/>
<rect x="438.00" y="566.71" width="34.50" height="9.10" fill="#e8e8f5"/>
<rect x="438.00" y="575.51" width="34.50" height="6.17" fill="#fcdadc"/>
<rect x="438.00" y="581.38" width="34.50" height="7.63" fill="#ffffff"/>
<rect x="438.00" y="588.71" width="34.50" height="10.79" fill="#f4f4fa"/>
<rect x="472.20" y="489.00" width="34.50" height="2.65" fill="#f8c1c4"/>
<rect x="472.20" y="491.35" width="34.50" height="9.68" fill="#ffffff"/>
<rect x="472.20" y="500.73" width="34.50" height="3.23" fill="#f39193"/>
<rect x="472.20" y="503.66" width="34.50" height="3.23" fill="#fce1e3"/>
<rect x="472.20" y="506.60" width="34.50" height="4.70" fill="#f7b9bc"/>
<rect x="472.20" y="510.99" width="34.50" height="4.70" fill="#fef0f1"/>
<rect x="472.20" y="515.39" width="34.50" height="6.17" fill="#fef7f8"/>
<rect x="472.20" y="521.26" width="34.50" height="45.75" fill="#d6d5ec"/>
<rect x="472.20" y="566.71" width="34.50" height="10.56" fill="#f6f6fc"/>
<rect x="472.20" y="576.98" width="34.50" height="6.17" fill="#ffffff"/>
<rect x="472.20" y="582.84" width="34.50" height="6.17" fill="#eeeef8"/>
<rect x="472.20" y="588.71" width="34.50" height="10.79" fill="#f9f9fd"/>
<rect x="96.00" y="340.00" width="34.50" height="2.65" fill="#f9c8cb"/>
<rect x="96.00" y="342.35" width="34.50" height="3.82" fill="#fef0f1"/>
<rect x="96.00" y="345.87" width="34.50" height="7.63" fill="#f8c1c4"/>
<rect x="96.00" y="353.20" width="34.50" height="4.11" fill="#fef7f8"/>
<rect x="96.00" y="357.01" width="34.50" height="3.23" fill="#f5a6a9"/>
<rect x="96.00" y="359.94" width="34.50" height="5.29" fill="#ffffff"/>
<rect x="96.00" y="364.93" width="34.50" height="7.63" fill="#a0a0d0"/>
<rect x="96.00" y="372.26" width="34.50" height="6.17" fill="#b9b7dc"/>
<rect x="96.00" y="378.12" width="34.50" height="5.58" fill="#acabd6"/>
<rect x="96.00" y="383.40" width="34.50" height="6.75" fill="#9294ca"/>
<rect x="96.00" y="389.85" width="34.50" height="10.56" fill="#bfbcdf"/>
<rect x="130.20" y="340.00" width="34.50" height="3.23" fill="#fcdadc"/>
<rect x="130.20" y="342.93" width="34.50" height="4.70" fill="#f4f4fa"/>
<rect x="130.20" y="347.33" width="34.50" height="7.04" fill="#ffffff"/>
<rect x="130.20" y="354.08" width="34.50" height="5.29" fill="#f17f82"/>
<rect x="130.20" y="359.06" width="34.50" height="6.17" fill="#fde8ea"/>
<rect x="130.20" y="364.93" width="34.50" height="9.10" fill="#a0a0d0"/>
<rect x="130.20" y="373.72" width="34.50" height="6.17" fill="#b3b1d9"/>
<rect x="130.20" y="379.59" width="34.50" height="4.70" fill="#a0a0d0"/>
<rect x="130.20" y="383.99" width="34.50" height="7.63" fill="#b3b1d9"/>
<rect x="130.20" y="391.32" width="34.50" height="6.17" fill="#a6a6d3"/>
<rect x="130.20" y="397.18" width="34.50" height="3.23" fill="#e2e2f2"/>
<rect x="164.40" y="340.00" width="34.50" height="6.17" fill="#ec2a2e"/>
<rect x="164.40" y="345.87" width="34.50" height="9.10" fill="#f5a6a9"/>
<rect x="164.40" y="354.66" width="34.50" height="3.82" fill="#fde8ea"/>
<rect x="164.40" y="358.18" width="34.50" height="5.58" fill="#ffffff"/>
<rect x="164.40" y="363.46" width="34.50" height="2.65" fill="#eeeef8"/>
<rect x="164.40" y="365.81" width="34.50" height="8.22" fill="#a6a6d3"/>
<rect x="164.40" y="373.72" width="34.50" height="7.63" fill="#b3b1d9"/>
<rect x="164.40" y="381.06" width="34.50" height="7.63" fill="#a0a0d0"/>
<rect x="164.40" y="388.39" width="34.50" height="6.17" fill="#b9b7dc"/>
<rect x="164.40" y="394.25" width="34.50" height="6.17" fill="#999acd"/>
<rect x="198.60" y="340.00" width="34.50" height="3.82" fill="#cecce8"/>
<rect x="198.60" y="343.52" width="34.50" height="2.65" fill="#e8e8f5"/>
<rect x="198.60" y="345.87" width="34.50" height="12.03" fill="#8b8ec7"/>
<rect x="198.60" y="357.60" width="34.50" height="4.70" fill="#b3b1d9"/>
<rect x="198.60" y="361.99" width="34.50" height="3.23" fill="#999acd"/>
<rect x="198.60" y="364.93" width="34.50" height="7.63" fill="#e8e8f5"/>
<rect x="198.60" y="372.26" width="34.50" height="3.82" fill="#fde8ea"/>
<rect x="198.60" y="375.78" width="34.50" height="4.11" fill="#f3989b"/>
<rect x="198.60" y="379.59" width="34.50" height="4.70" fill="#fef7f8"/>
<rect x="198.60" y="383.99" width="34.50" height="4.70" fill="#f5acaf"/>
<rect x="198.60" y="388.39" width="34.50" height="4.11" fill="#ffffff"/>
<rect x="198.60" y="392.20" width="34.50" height="8.22" fill="#ed4144"/>
<rect x="232.80" y="340.00" width="34.50" height="3.23" fill="#fbd3d5"/>
<rect x="232.80" y="342.93" width="34.50" height="3.23" fill="#eeeef8"/>
<rect x="232.80" y="345.87" width="34.50" height="9.10" fill="#7178bb"/>
<rect x="232.80" y="354.66" width="34.50" height="3.82" fill="#cecce8"/>
<rect x="232.80" y="358.18" width="34.50" height="3.23" fill="#f4f4fa"/>
<rect x="232.80" y="361.11" width="34.50" height="4.11" fill="#b3b1d9"/>
<rect x="232.80" y="364.93" width="34.50" height="7.63" fill="#d6d5ec"/>
<rect x="232.80" y="372.26" width="34.50" height="4.70" fill="#fce1e3"/>
<rect x="232.80" y="376.66" width="34.50" height="3.23" fill="#eeeef8"/>
<rect x="232.80" y="379.59" width="34.50" height="4.70" fill="#fbd3d5"/>
<rect x="232.80" y="383.99" width="34.50" height="4.70" fill="#ffffff"/>
<rect x="232.80" y="388.39" width="34.50" height="4.70" fill="#faced0"/>
<rect x="232.80" y="392.79" width="34.50" height="7.63" fill="#f4f4fa"/>
<rect x="267.00" y="340.00" width="34.50" height="3.23" fill="#e8e8f5"/>
<rect x="267.00" y="342.93" width="34.50" height="3.23" fill="#dcdbef"/>
<rect x="267.00" y="345.87" width="34.50" height="9.10" fill="#9294ca"/>
<rect x="267.00" y="354.66" width="34.50" height="6.17" fill="#bfbcdf"/>
<rect x="267.00" y="360.53" width="34.50" height="4.70" fill="#e2e2f2"/>
<rect x="267.00" y="364.93" width="34.50" height="7.63" fill="#e2e2f2"/>
<rect x="267.00" y="372.26" width="34.50" height="3.23" fill="#ffffff"/>
<rect x="267.00" y="375.19" width="34.50" height="4.70" fill="#e2e2f2"/>
<rect x="267.00" y="379.59" width="34.50" height="4.70" fill="#f7b9bc"/>
<rect x="267.00" y="383.99" width="34.50" height="4.70" fill="#eeeef8"/>
<rect x="267.00" y="388.39" width="34.50" height="4.70" fill="#fce1e3"/>
<rect x="267.00" y="392.79" width="34.50" height="7.63" fill="#e2e2f2"/>
<rect x="301.20" y="340.00" width="34.50" height="3.23" fill="#dcdbef"/>
<rect x="301.20" y="342.93" width="34.50" height="2.65" fill="#ffffff"/>
<rect x="301.20" y="345.28" width="34.50" height="8.22" fill="#fce1e3"/>
<rect x="301.20" y="353.20" width="34.50" height="7.63" fill="#acabd6"/>
<rect x="301.20" y="360.53" width="34.50" height="3.23" fill="#ffffff"/>
<rect x="301.20" y="363.46" width="34.50" height="9.10" fill="#fef7f8"/>
<rect x="301.20" y="372.26" width="34.50" height="9.10" fill="#b3b1d9"/>
<rect x="301.20" y="381.06" width="34.50" height="3.23" fill="#fde8ea"/>
<rect x="301.20" y="383.99" width="34.50" height="4.70" fill="#fbd3d5"/>
<rect x="301.20" y="388.39" width="34.50" height="4.70" fill="#c6c3e3"/>
<rect x="301.20" y="392.79" width="34.50" height="4.70" fill="#b9b7dc"/>
<rect x="301.20" y="397.18" width="34.50" height="3.23" fill="#e2e2f2"/>
<rect x="335.40" y="340.00" width="34.50" height="3.82" fill="#dcdbef"/>
<rect x="335.40" y="343.52" width="34.50" height="2.65" fill="#f4f4fa"/>
<rect x="335.40" y="345.87" width="34.50" height="8.51" fill="#f07579"/>
<rect x="335.40" y="354.08" width="34.50" height="6.75" fill="#f7b9bc"/>
<rect x="335.40" y="360.53" width="34.50" height="3.23" fill="#fbd3d5"/>
<rect x="335.40" y="363.46" width="34.50" height="7.63" fill="#f9c8cb"/>
<rect x="335.40" y="370.79" width="34.50" height="4.70" fill="#fde8ea"/>
<rect x="335.40" y="375.19" width="34.50" height="6.17" fill="#fce1e3"/>
<rect x="335.40" y="381.06" width="34.50" height="4.70" fill="#b3b1d9"/>
<rect x="335.40" y="385.45" width="34.50" height="4.70" fill="#fef7f8"/>
<rect x="335.40" y="389.85" width="34.50" height="6.75" fill="#ee575b"/>
<rect x="335.40" y="396.30" width="34.50" height="4.11" fill="#fef0f1"/>
<rect x="369.60" y="340.00" width="34.50" height="3.82" fill="#dcdbef"/>
<rect x="369.60" y="343.52" width="34.50" height="3.23" fill="#f5acaf"/>
<rect x="369.60" y="346.45" width="34.50" height="7.04" fill="#fce1e3"/>
<rect x="369.60" y="353.20" width="34.50" height="6.17" fill="#ffffff"/>
<rect x="369.60" y="359.06" width="34.50" height="3.23" fill="#acabd6"/>
<rect x="369.60" y="361.99" width="34.50" height="3.23" fill="#fde8ea"/>
<rect x="369.60" y="364.93" width="34.50" height="7.63" fill="#faced0"/>
<rect x="369.60" y="372.26" width="34.50" height="9.10" fill="#ffffff"/>
<rect x="369.60" y="381.06" width="34.50" height="3.23" fill="#fef0f1"/>
<rect x="369.60" y="383.99" width="34.50" height="4.70" fill="#dcdbef"/>
<rect x="369.60" y="388.39" width="34.50" height="12.03" fill="#faced0"/>
<rect x="403.80" y="340.00" width="34.50" height="4.70" fill="#dcdbef"/>
<rect x="403.80" y="344.40" width="34.50" height="4.70" fill="#f4f4fa"/>
<rect x="403.80" y="348.80" width="34.50" height="5.58" fill="#fcdadc"/>
<rect x="403.80" y="354.08" width="34.50" height="3.23" fill="#f7b9bc"/>
<rect x="403.80" y="357.01" width="34.50" height="3.23" fill="#fde8ea"/>
<rect x="403.80" y="359.94" width="34.50" height="6.75" fill="#ef6e72"/>
<rect x="403.80" y="366.39" width="34.50" height="7.63" fill="#f4a0a3"/>
<rect x="403.80" y="373.72" width="34.50" height="16.43" fill="#f2898b"/>
<rect x="403.80" y="389.85" width="34.50" height="10.56" fill="#fcdadc"/>
<rect x="438.00" y="340.00" width="34.50" height="4.70" fill="#dcdbef"/>
<rect x="438.00" y="344.40" width="34.50" height="4.70" fill="#ffffff"/>
<rect x="438.00" y="348.80" width="34.50" height="4.70" fill="#fcdadc"/>
<rect x="438.00" y="353.20" width="34.50" height="6.17" fill="#fef0f1"/>
<rect x="438.00" y="359.06" width="34.50" height="3.23" fill="#ee4d51"/>
<rect x="438.00" y="361.99" width="34.50" height="13.50" fill="#ef676b"/>
<rect x="438.00" y="375.19" width="34.50" height="4.70" fill="#f3989b"/>
<rect x="438.00" y="379.59" width="34.50" height="3.23" fill="#f7b9bc"/>
<rect x="438.00" y="382.52" width="34.50" height="4.70" fill="#f39193"/>
<rect x="438.00" y="386.92" width="34.50" height="10.56" fill="#cecce8"/>
<rect x="438.00" y="397.18" width="34.50" height="3.23" fill="#ffffff"/>
<rect x="472.20" y="340.00" width="34.50" height="3.82" fill="#e8e8f5"/>
<rect x="472.20" y="343.52" width="34.50" height="3.23" fill="#ffffff"/>
<rect x="472.20" y="346.45" width="34.50" height="7.04" fill="#eeeef8"/>
<rect x="472.20" y="353.20" width="34.50" height="3.23" fill="#f5acaf"/>
<rect x="472.20" y="356.13" width="34.50" height="3.23" fill="#ffffff"/>
<rect x="472.20" y="359.06" width="34.50" height="4.70" fill="#e8e8f5"/>
<rect x="472.20" y="363.46" width="34.50" height="10.56" fill="#f5acaf"/>
<rect x="472.20" y="373.72" width="34.50" height="7.63" fill="#f4a0a3"/>
<rect x="472.20" y="381.06" width="34.50" height="3.23" fill="#f5a6a9"/>
<rect x="472.20" y="383.99" width="34.50" height="6.17" fill="#f07579"/>
<rect x="472.20" y="389.85" width="34.50" height="10.56" fill="#fbd3d5"/>
<rect x="96.00" y="178.5" width="102.80" height="5.5" fill="#3f51a3"/>
<rect x="198.60" y="178.5" width="102.80" height="5.5" fill="#f3e428"/>
<rect x="301.20" y="178.5" width="102.80" height="5.5" fill="#3f51a3"/>
<rect x="403.80" y="178.5" width="102.80" height="5.5" fill="#f3e428"/>
<text x="148.10" y="173.8" font-family='"Liberation Serif", serif' font-size="16.8" fill="#1a1a1a" text-anchor="middle">Stem</text>
<text x="250.70" y="173.8" font-family='"Liberation Serif", serif' font-size="16.8" fill="#1a1a1a" text-anchor="middle">Callus</text>
<text x="353.30" y="173.8" font-family='"Liberation Serif", serif' font-size="16.8" fill="#1a1a1a" text-anchor="middle">Stem</text>
<text x="455.90" y="173.8" font-family='"Liberation Serif", serif' font-size="16.8" fill="#1a1a1a" text-anchor="middle">Callus</text>
<text x="509.5" y="195.80" font-family='"Liberation Serif", serif' font-size="13" fill="#1a1a1a">egd−N−miR114−5p</text>
<text x="509.5" y="207.75" font-family='"Liberation Serif", serif' font-size="13" fill="#1a1a1a">egd−N−miR234−3p</text>
<text x="509.5" y="219.70" font-family='"Liberation Serif", serif' font-size="13" fill="#1a1a1a">egd−N−miR293−5p</text>
<text x="509.5" y="231.65" font-family='"Liberation Serif", serif' font-size="13" fill="#1a1a1a">egd−N−miR3−5p</text>
<text x="509.5" y="243.60" font-family='"Liberation Serif", serif' font-size="13" fill="#1a1a1a">egd−N−miR118−3p</text>
<text x="509.5" y="255.55" font-family='"Liberation Serif", serif' font-size="13" fill="#1a1a1a">egd−N−miR170−5p</text>
<text x="509.5" y="267.50" font-family='"Liberation Serif", serif' font-size="13" fill="#1a1a1a">egd−N−miR138−5p</text>
<text x="509.5" y="279.45" font-family='"Liberation Serif", serif' font-size="13" fill="#1a1a1a">egd−miR395c−3p</text>
<text x="509.5" y="291.40" font-family='"Liberation Serif", serif' font-size="13" fill="#1a1a1a">egd−miR395h−3p</text>
<text x="509.5" y="303.35" font-family='"Liberation Serif", serif' font-size="13" fill="#1a1a1a">egd−N−miR53−3p</text>
<text x="509.5" y="315.30" font-family='"Liberation Serif", serif' font-size="13" fill="#1a1a1a">egd−N−miR46−3p</text>
<text x="509.5" y="327.25" font-family='"Liberation Serif", serif' font-size="13" fill="#1a1a1a">egd−N−miR211−5p</text>
<text x="509.5" y="339.20" font-family='"Liberation Serif", serif' font-size="13" fill="#1a1a1a">egd−N−miR216−5p</text>
<text x="509.5" y="351.15" font-family='"Liberation Serif", serif' font-size="13" fill="#1a1a1a">egd−miR399d−5p</text>
<text x="509.5" y="363.10" font-family='"Liberation Serif", serif' font-size="13" fill="#1a1a1a">egd−N−miR82−3p</text>
<text x="509.5" y="375.05" font-family='"Liberation Serif", serif' font-size="13" fill="#1a1a1a">egd−N−miR61−3p</text>
<text x="509.5" y="387.00" font-family='"Liberation Serif", serif' font-size="13" fill="#1a1a1a">egd−miR477a−5p</text>
<text x="509.5" y="398.95" font-family='"Liberation Serif", serif' font-size="13" fill="#1a1a1a">egd−N−miR43−5p</text>
<text x="509.5" y="410.90" font-family='"Liberation Serif", serif' font-size="13" fill="#1a1a1a">egd−N−miR169−3p</text>
<text x="509.5" y="422.85" font-family='"Liberation Serif", serif' font-size="13" fill="#1a1a1a">egd−miR169ac−5p</text>
<text x="509.5" y="434.80" font-family='"Liberation Serif", serif' font-size="13" fill="#1a1a1a">egd−miR169o−5p</text>
<text x="509.5" y="446.75" font-family='"Liberation Serif", serif' font-size="13" fill="#1a1a1a">egd−miR169w−5p</text>
<text x="509.5" y="458.70" font-family='"Liberation Serif", serif' font-size="13" fill="#1a1a1a">egd−miR169u−5p</text>
<text x="509.5" y="470.65" font-family='"Liberation Serif", serif' font-size="13" fill="#1a1a1a">egd−N−miR128−3p</text>
<text x="509.5" y="482.60" font-family='"Liberation Serif", serif' font-size="13" fill="#1a1a1a">egd−N−miR173−5p</text>
<text x="509.5" y="494.55" font-family='"Liberation Serif", serif' font-size="13" fill="#1a1a1a">egd−N−miR1−5p</text>
<text x="509.5" y="506.50" font-family='"Liberation Serif", serif' font-size="13" fill="#1a1a1a">egd−miR535a−3p</text>
<text x="509.5" y="518.45" font-family='"Liberation Serif", serif' font-size="13" fill="#1a1a1a">egd−N−miR85−5p</text>
<text x="509.5" y="530.40" font-family='"Liberation Serif", serif' font-size="13" fill="#1a1a1a">egd−N−miR235−5p</text>
<text x="509.5" y="542.35" font-family='"Liberation Serif", serif' font-size="13" fill="#1a1a1a">egd−N−miR312−3p</text>
<text x="509.5" y="554.30" font-family='"Liberation Serif", serif' font-size="13" fill="#1a1a1a">egd−N−miR281−3p</text>
<text x="509.5" y="566.25" font-family='"Liberation Serif", serif' font-size="13" fill="#1a1a1a">egd−N−miR276−5p</text>
<text x="509.5" y="578.20" font-family='"Liberation Serif", serif' font-size="13" fill="#1a1a1a">egd−N−miR84−3p</text>
<text x="509.5" y="590.15" font-family='"Liberation Serif", serif' font-size="13" fill="#1a1a1a">egd−miR397c−5p</text>
<text x="509.5" y="602.10" font-family='"Liberation Serif", serif' font-size="13" fill="#1a1a1a">egd−N−miR12−5p</text>
<text transform="translate(118.60,645.3) rotate(-90)" x="0" y="0" font-family='"Liberation Serif", serif' font-size="17" letter-spacing="1.3" fill="#1a1a1a">A1_1</text>
<text transform="translate(152.80,645.3) rotate(-90)" x="0" y="0" font-family='"Liberation Serif", serif' font-size="17" letter-spacing="1.3" fill="#1a1a1a">A1_2</text>
<text transform="translate(187.00,645.3) rotate(-90)" x="0" y="0" font-family='"Liberation Serif", serif' font-size="17" letter-spacing="1.3" fill="#1a1a1a">A1_3</text>
<text transform="translate(221.20,645.3) rotate(-90)" x="0" y="0" font-family='"Liberation Serif", serif' font-size="17" letter-spacing="1.3" fill="#1a1a1a">A2_1</text>
<text transform="translate(255.40,645.3) rotate(-90)" x="0" y="0" font-family='"Liberation Serif", serif' font-size="17" letter-spacing="1.3" fill="#1a1a1a">A2_2</text>
<text transform="translate(289.60,645.3) rotate(-90)" x="0" y="0" font-family='"Liberation Serif", serif' font-size="17" letter-spacing="1.3" fill="#1a1a1a">A2_3</text>
<text transform="translate(323.80,645.3) rotate(-90)" x="0" y="0" font-family='"Liberation Serif", serif' font-size="17" letter-spacing="1.3" fill="#1a1a1a">B1_1</text>
<text transform="translate(358.00,645.3) rotate(-90)" x="0" y="0" font-family='"Liberation Serif", serif' font-size="17" letter-spacing="1.3" fill="#1a1a1a">B1_2</text>
<text transform="translate(392.20,645.3) rotate(-90)" x="0" y="0" font-family='"Liberation Serif", serif' font-size="17" letter-spacing="1.3" fill="#1a1a1a">B1_3</text>
<text transform="translate(426.40,645.3) rotate(-90)" x="0" y="0" font-family='"Liberation Serif", serif' font-size="17" letter-spacing="1.3" fill="#1a1a1a">B2_1</text>
<text transform="translate(460.60,645.3) rotate(-90)" x="0" y="0" font-family='"Liberation Serif", serif' font-size="17" letter-spacing="1.3" fill="#1a1a1a">B2_2</text>
<text transform="translate(494.80,645.3) rotate(-90)" x="0" y="0" font-family='"Liberation Serif", serif' font-size="17" letter-spacing="1.3" fill="#1a1a1a">B2_3</text>
<rect x="95.7" y="667.8" width="205.2" height="6" fill="#e8362c"/>
<rect x="300.9" y="667.8" width="205.5" height="6" fill="#3db44a"/>
<text x="212" y="692" font-family='"Liberation Serif", serif' font-style="italic" font-size="16.7" fill="#1a1a1a" text-anchor="middle">E. camaldulensis</text>
<text x="408.4" y="692" font-family='"Liberation Serif", serif' font-style="italic" font-size="16.7" fill="#1a1a1a" text-anchor="middle">E. grandis x urophylla</text>
<defs><linearGradient id="cb" x1="0" y1="0" x2="0" y2="1"><stop offset="0.0000" stop-color="#ee2228"/><stop offset="0.0238" stop-color="#ec2a2e"/><stop offset="0.0556" stop-color="#ec3538"/><stop offset="0.1190" stop-color="#ee4d51"/><stop offset="0.1508" stop-color="#ee6064"/><stop offset="0.1984" stop-color="#f07579"/><stop offset="0.2302" stop-color="#f2898b"/><stop offset="0.2778" stop-color="#f4a0a3"/><stop offset="0.3254" stop-color="#f6b2b5"/><stop offset="0.3730" stop-color="#f9c8cb"/><stop offset="0.4048" stop-color="#fbd3d5"/><stop offset="0.4524" stop-color="#fde8ea"/><stop offset="0.5000" stop-color="#ffffff"/><stop offset="0.5476" stop-color="#eeeef8"/><stop offset="0.6111" stop-color="#d6d5ec"/><stop offset="0.6508" stop-color="#c2bfe1"/><stop offset="0.7381" stop-color="#a0a0d0"/><stop offset="0.8175" stop-color="#7d82c1"/><stop offset="0.8651" stop-color="#6b73b8"/><stop offset="1.0000" stop-color="#3a53a4"/></linearGradient></defs>
<rect x="643.5" y="190.5" width="10.5" height="414" fill="url(#cb)" stroke="#333" stroke-width="0.6"/>
<line x1="654" y1="190.3" x2="654" y2="604.8" stroke="#000" stroke-width="1.7"/>
<line x1="654" y1="200.7" x2="658" y2="200.7" stroke="#000" stroke-width="1.3"/>
<text x="670" y="205.7" font-family='"Liberation Serif", serif' font-size="15" fill="#1a1a1a" text-anchor="middle">3</text>
<line x1="654" y1="266.3" x2="658" y2="266.3" stroke="#000" stroke-width="1.3"/>
<line x1="654" y1="331.9" x2="658" y2="331.9" stroke="#000" stroke-width="1.3"/>
<text x="670" y="336.9" font-family='"Liberation Serif", serif' font-size="15" fill="#1a1a1a" text-anchor="middle">1</text>
<line x1="654" y1="397.5" x2="658" y2="397.5" stroke="#000" stroke-width="1.3"/>
<text x="670" y="402.5" font-family='"Liberation Serif", serif' font-size="15" fill="#1a1a1a" text-anchor="middle">0</text>
<line x1="654" y1="463.1" x2="658" y2="463.1" stroke="#000" stroke-width="1.3"/>
<text x="670" y="468.1" font-family='"Liberation Serif", serif' font-size="15" fill="#1a1a1a" text-anchor="middle">−1</text>
<line x1="654" y1="528.7" x2="658" y2="528.7" stroke="#000" stroke-width="1.3"/>
<line x1="654" y1="594.3" x2="658" y2="594.3" stroke="#000" stroke-width="1.3"/>
<text x="670" y="599.3" font-family='"Liberation Serif", serif' font-size="15" fill="#1a1a1a" text-anchor="middle">−3</text>
<text x="614.8" y="185.5" font-family='"Liberation Serif", serif' font-size="16.7" fill="#1a1a1a">Scaled value</text>
<path d="M43.5 337H36.5V431.5H43.5M54 316.5H43.5V358.5H61M60 289.5H54V343H63M68 266H60V313.5H94.8M71.4 241.5H68V290.5H75M76.4 223.4H71.4V259.7H79.6M80 209.1H76.4V236.2H78.9M81.7 198.7H80V219.5H85.3M88.8 193.5H81.7V203.9H87.4M88.8 190.3V196.6M88.8 190.3H94.8M88.8 196.6H94.8M87.4 202.2V205.6M87.4 202.2H94.8M87.4 205.6H94.8M90.6 213.1H85.3V225.9H90.2M94.8 213.1H90.6V209.8H92M92 213.1V216.4M92 213.1H94.8M92 216.4H94.8M90.2 219.5V226.1M90.2 219.5H94.8M90.2 222.8H94.8M90.2 226.1H94.8M80.6 231.8H78.9V240.6H84.9M80.6 229.5V234.1M80.6 229.5H94.8M80.6 234.1H94.8M84.9 237.7V243.4M84.9 237.7H94.8M84.9 240.6H94.8M84.9 243.4H94.8M91.3 254.8H79.6V264H94.8M91.3 248V262M91.3 248H94.8M91.3 251.5H94.8M91.3 255H94.8M91.3 258.5H94.8M91.3 262H94.8M87.5 286.5H75V295H80M87.5 283.5V288M87.5 283.5H94.8M87.5 288H94.8M94.8 292.5H80V298H94.8M72.5 340.5H63V345.5H94.8M83 337H72.5V343H94.8M91.5 334.5H83V340H94.8M94.8 331H91.5V337H94.8M70 353.5H61V363H73M93 350.5H70V356.5H74M93 349V351.5M93 349H94.8M93 351.5H94.8M90 355.5H74V358H94.8M90 354.5V356.5M90 354.5H94.8M90 356.5H94.8M90 361.5H73V364.5H94.8M90 360.5V362.5M90 360.5H94.8M90 362.5H94.8M53.5 389H43.5V474H51M64 379.5H53.5V397.5H58.5M70.5 374H64V386H67.5M79.5 370.5H70.5V377.5H83.5M87 368H79.5V373H87M87 366.5V369.5M87 366.5H94.8M87 369.5H94.8M87 372V374.5M87 372H94.8M87 374.5H94.8M83.5 376.5V379M83.5 376.5H94.8M83.5 379H94.8M76.5 384H67.5V388H94.8M76.5 382.5V385M76.5 382.5H94.8M76.5 385H94.8M93.5 392.5H58.5V402.5H72.5M93.5 391.5V393.5M93.5 391.5H94.8M93.5 393.5H94.8M77.5 399H72.5V405.5H76.5M77.5 396.5V400M77.5 396.5H94.8M77.5 400H94.8M94.8 403H76.5V408H81.5M94.8 406H81.5V410.5H87.5M87.5 409V412M87.5 409H94.8M87.5 412H94.8M70 449.5H51V499H58.5M94.8 445.3H70V453.9H94.8M75.3 467H58.5V530H61.8M85.3 458.5H75.3V474.2H85.3M85.3 456.7V462.8M85.3 456.7H94.8M85.3 460.3H94.8M85.3 462.8H94.8M87 467.8H85.3V477.7H94.8M87 467.8V473.1M87 467.8H94.8M87 470.5H94.8M87 473.1H94.8M67.5 499H61.8V561H71.4M71 485.6H67.5V511.2H76.4M78.1 482.7H71V489.1H80.3M78.1 480.9V483.8M78.1 480.9H94.8M78.1 483.8H94.8M94.8 486.6H80.3V492.7H85.3M85.3 489.8V499M85.3 489.8H94.8M85.3 494.8H94.8M85.3 499H94.8M82 506.5H76.4V516.2H86.7M82 502V510.5M82 502H94.8M82 504.5H94.8M82 507.5H94.8M82 510.5H94.8M86.7 513.7V519M86.7 513.7H94.8M86.7 516.5H94.8M86.7 519H94.8M77.8 543.8H71.4V578.7H78.9M81.4 532.5H77.8V555.6H82.4M86.7 526.4H81.4V538.1H87.4M86.7 522.8V528.9M86.7 522.8H94.8M86.7 525.7H94.8M86.7 528.9H94.8M87.4 535.7V540.6M87.4 535.7H94.8M87.4 540.6H94.8M87.4 548.5H82.4V562.7H89.5M87.4 544.6V552M87.4 544.6H94.8M87.4 547.1H94.8M87.4 549.6H94.8M87.4 552H94.8M89.5 561.3V564.8M89.5 561.3H94.8M89.5 564.8H94.8M87 570.2H78.9V587.3H84.9M87 567.6V573.5M87 567.6H94.8M87 570.6H94.8M87 573.5H94.8M86.7 581.2H84.9V592.6H87.4M86.7 578.7V584.4M86.7 578.7H94.8M86.7 581.5H94.8M86.7 584.4H94.8M87.4 590.5V596.5M87.4 590.5H94.8M87.4 593.5H94.8M87.4 596.5H94.8M94.2 265V283M94.2 295V310M94.2 316V331M94.2 415V445.3M94.2 531.4V535.7M94.2 558V561.3" fill="none" stroke="#000" stroke-width="1.5" stroke-linecap="butt"/>
<text x="161.5" y="741" font-family='"Liberation Serif", serif' font-weight="bold" font-size="13.6" fill="#111" text-anchor="middle">miR399a-5p</text>
<path d="M93.7 747.4V890H235.6" fill="none" stroke="#000" stroke-width="1.4"/>
<line x1="89.2" y1="748" x2="93.7" y2="748" stroke="#000" stroke-width="1.3"/>
<text transform="translate(88.20,752.70) scale(0.92,1)" x="0" y="0" font-family='"Liberation Serif", serif' font-weight="bold" font-size="14" fill="#111" text-anchor="end">15</text>
<line x1="89.2" y1="795.3" x2="93.7" y2="795.3" stroke="#000" stroke-width="1.3"/>
<text transform="translate(88.20,800.00) scale(0.92,1)" x="0" y="0" font-family='"Liberation Serif", serif' font-weight="bold" font-size="14" fill="#111" text-anchor="end">10</text>
<line x1="89.2" y1="842.7" x2="93.7" y2="842.7" stroke="#000" stroke-width="1.3"/>
<text transform="translate(88.20,847.40) scale(0.92,1)" x="0" y="0" font-family='"Liberation Serif", serif' font-weight="bold" font-size="14" fill="#111" text-anchor="end">5</text>
<line x1="89.2" y1="890" x2="93.7" y2="890" stroke="#000" stroke-width="1.3"/>
<text transform="translate(88.20,894.70) scale(0.92,1)" x="0" y="0" font-family='"Liberation Serif", serif' font-weight="bold" font-size="14" fill="#111" text-anchor="end">0</text>
<line x1="114.8" y1="890" x2="114.8" y2="894" stroke="#000" stroke-width="1.3"/>
<text x="114.8" y="905.5" font-family='"Liberation Serif", serif' font-weight="bold" font-size="14" fill="#111" text-anchor="middle">A1</text>
<line x1="147.7" y1="890" x2="147.7" y2="894" stroke="#000" stroke-width="1.3"/>
<text x="147.7" y="905.5" font-family='"Liberation Serif", serif' font-weight="bold" font-size="14" fill="#111" text-anchor="middle">A2</text>
<line x1="180.7" y1="890" x2="180.7" y2="894" stroke="#000" stroke-width="1.3"/>
<text x="180.7" y="905.5" font-family='"Liberation Serif", serif' font-weight="bold" font-size="14" fill="#111" text-anchor="middle">B1</text>
<line x1="213.4" y1="890" x2="213.4" y2="894" stroke="#000" stroke-width="1.3"/>
<text x="213.4" y="905.5" font-family='"Liberation Serif", serif' font-weight="bold" font-size="14" fill="#111" text-anchor="middle">B2</text>
<text transform="translate(62.3,816.4) rotate(-90)" x="0" y="0" font-family='"Liberation Serif", serif' font-weight="bold" font-size="13.4" fill="#111" text-anchor="middle">miRNA expression (TPM)</text>
<path d="M138.50 791.30L157.50 791.30C157.55 792.25 157.83 795.05 157.80 797.00C157.77 798.95 157.55 801.45 157.30 803.00C157.05 804.55 156.85 804.80 156.30 806.30C155.75 807.80 154.72 810.05 154.00 812.00C153.28 813.95 152.47 816.00 152.00 818.00C151.53 820.00 151.27 822.00 151.20 824.00C151.13 826.00 151.33 828.00 151.60 830.00C151.87 832.00 152.40 833.43 152.80 836.00C153.20 838.57 153.80 843.83 154.00 845.40L142.00 845.40C142.20 843.83 142.80 838.57 143.20 836.00C143.60 833.43 144.13 832.00 144.40 830.00C144.67 828.00 144.87 826.00 144.80 824.00C144.73 822.00 144.47 820.00 144.00 818.00C143.53 816.00 142.72 813.95 142.00 812.00C141.28 810.05 140.25 807.80 139.70 806.30C139.15 804.80 138.95 804.55 138.70 803.00C138.45 801.45 138.23 798.95 138.20 797.00C138.17 795.05 138.45 792.25 138.50 791.30Z" fill="none" stroke="#000" stroke-width="2.3" stroke-linejoin="round"/>
<line x1="140.94" y1="806.4" x2="155.06" y2="806.4" stroke="#000" stroke-width="1.1" stroke-dasharray="2.2 1.2"/>
<path d="M204.20 866.90L223.00 866.90C223.15 867.30 224.37 868.40 223.90 869.30C223.43 870.20 220.95 871.35 220.20 872.30C219.45 873.25 219.32 874.07 219.40 875.00C219.48 875.93 220.48 877.42 220.70 877.90L206.50 877.90C206.72 877.42 207.72 875.93 207.80 875.00C207.88 874.07 207.75 873.25 207.00 872.30C206.25 871.35 203.77 870.20 203.30 869.30C202.83 868.40 204.05 867.30 204.20 866.90Z" fill="none" stroke="#000" stroke-width="2.3" stroke-linejoin="round"/>
<line x1="206.10" y1="870.6" x2="221.10" y2="870.6" stroke="#000" stroke-width="1.1" stroke-dasharray="2.2 1.2"/>
<text x="371.5" y="740.4" font-family='"Liberation Serif", serif' font-weight="bold" font-size="13.6" fill="#111" text-anchor="middle">N-miR83-5p</text>
<path d="M294.6 748.6V891H437.2" fill="none" stroke="#000" stroke-width="1.4"/>
<line x1="290.1" y1="749.2" x2="294.6" y2="749.2" stroke="#000" stroke-width="1.3"/>
<text transform="translate(289.10,753.90) scale(0.92,1)" x="0" y="0" font-family='"Liberation Serif", serif' font-weight="bold" font-size="14" fill="#111" text-anchor="end">40</text>
<line x1="290.1" y1="784.6" x2="294.6" y2="784.6" stroke="#000" stroke-width="1.3"/>
<text transform="translate(289.10,789.30) scale(0.92,1)" x="0" y="0" font-family='"Liberation Serif", serif' font-weight="bold" font-size="14" fill="#111" text-anchor="end">30</text>
<line x1="290.1" y1="820.1" x2="294.6" y2="820.1" stroke="#000" stroke-width="1.3"/>
<text transform="translate(289.10,824.80) scale(0.92,1)" x="0" y="0" font-family='"Liberation Serif", serif' font-weight="bold" font-size="14" fill="#111" text-anchor="end">20</text>
<line x1="290.1" y1="855.6" x2="294.6" y2="855.6" stroke="#000" stroke-width="1.3"/>
<text transform="translate(289.10,860.30) scale(0.92,1)" x="0" y="0" font-family='"Liberation Serif", serif' font-weight="bold" font-size="14" fill="#111" text-anchor="end">10</text>
<line x1="290.1" y1="891" x2="294.6" y2="891" stroke="#000" stroke-width="1.3"/>
<text transform="translate(289.10,895.70) scale(0.92,1)" x="0" y="0" font-family='"Liberation Serif", serif' font-weight="bold" font-size="14" fill="#111" text-anchor="end">0</text>
<line x1="317" y1="891" x2="317" y2="895" stroke="#000" stroke-width="1.3"/>
<text x="317" y="905.5" font-family='"Liberation Serif", serif' font-weight="bold" font-size="14" fill="#111" text-anchor="middle">A1</text>
<line x1="349.8" y1="891" x2="349.8" y2="895" stroke="#000" stroke-width="1.3"/>
<text x="349.8" y="905.5" font-family='"Liberation Serif", serif' font-weight="bold" font-size="14" fill="#111" text-anchor="middle">A2</text>
<line x1="382.3" y1="891" x2="382.3" y2="895" stroke="#000" stroke-width="1.3"/>
<text x="382.3" y="905.5" font-family='"Liberation Serif", serif' font-weight="bold" font-size="14" fill="#111" text-anchor="middle">B1</text>
<line x1="415.5" y1="891" x2="415.5" y2="895" stroke="#000" stroke-width="1.3"/>
<text x="415.5" y="905.5" font-family='"Liberation Serif", serif' font-weight="bold" font-size="14" fill="#111" text-anchor="middle">B2</text>
<line x1="294.6" y1="889.8" x2="437.2" y2="889.8" stroke="#000" stroke-width="1.2" stroke-dasharray="0.8 2.2"/>
<path d="M307.00 855.80L326.80 855.80C326.87 856.08 327.43 856.88 327.20 857.50C326.97 858.12 326.20 858.75 325.40 859.50C324.60 860.25 323.08 861.17 322.40 862.00C321.72 862.83 321.35 863.75 321.30 864.50C321.25 865.25 321.75 865.87 322.10 866.50C322.45 867.13 323.18 868.00 323.40 868.30L310.40 868.30C310.62 868.00 311.35 867.13 311.70 866.50C312.05 865.87 312.55 865.25 312.50 864.50C312.45 863.75 312.08 862.83 311.40 862.00C310.72 861.17 309.20 860.25 308.40 859.50C307.60 858.75 306.83 858.12 306.60 857.50C306.37 856.88 306.93 856.08 307.00 855.80Z" fill="none" stroke="#000" stroke-width="2.3" stroke-linejoin="round"/>
<line x1="310.20" y1="860" x2="323.60" y2="860" stroke="#000" stroke-width="1.1" stroke-dasharray="2.2 1.2"/>
<path d="M339.20 760.10L359.80 760.10C359.68 760.80 359.77 762.58 359.10 764.30C358.43 766.02 357.03 768.08 355.80 770.40C354.57 772.72 352.58 776.05 351.70 778.20C350.82 780.35 350.42 781.17 350.50 783.30C350.58 785.43 351.55 788.42 352.20 791.00C352.85 793.58 353.98 796.52 354.40 798.80C354.82 801.08 354.65 803.72 354.70 804.70L344.30 804.70C344.35 803.72 344.18 801.08 344.60 798.80C345.02 796.52 346.15 793.58 346.80 791.00C347.45 788.42 348.42 785.43 348.50 783.30C348.58 781.17 348.18 780.35 347.30 778.20C346.42 776.05 344.43 772.72 343.20 770.40C341.97 768.08 340.57 766.02 339.90 764.30C339.23 762.58 339.32 760.80 339.20 760.10Z" fill="none" stroke="#000" stroke-width="2.3" stroke-linejoin="round"/>
<path d="M404.8 889.6Q407 888 410 887.9H420Q423 888 425.2 889.6Q423 891.2 420 891.2H410Q407 891.2 404.8 889.6Z" fill="#000" stroke="#000" stroke-width="0.8"/>
<text x="574.5" y="740.5" font-family='"Liberation Serif", serif' font-weight="bold" font-size="13.6" fill="#111" text-anchor="middle">N-miR125-3p</text>
<path d="M494.6 749.0V891.1H637.2" fill="none" stroke="#000" stroke-width="1.4"/>
<line x1="490.1" y1="749.6" x2="494.6" y2="749.6" stroke="#000" stroke-width="1.3"/>
<text transform="translate(489.10,754.30) scale(0.92,1)" x="0" y="0" font-family='"Liberation Serif", serif' font-weight="bold" font-size="14" fill="#111" text-anchor="end">25</text>
<line x1="490.1" y1="777.9" x2="494.6" y2="777.9" stroke="#000" stroke-width="1.3"/>
<text transform="translate(489.10,782.60) scale(0.92,1)" x="0" y="0" font-family='"Liberation Serif", serif' font-weight="bold" font-size="14" fill="#111" text-anchor="end">20</text>
<line x1="490.1" y1="806.2" x2="494.6" y2="806.2" stroke="#000" stroke-width="1.3"/>
<text transform="translate(489.10,810.90) scale(0.92,1)" x="0" y="0" font-family='"Liberation Serif", serif' font-weight="bold" font-size="14" fill="#111" text-anchor="end">15</text>
<line x1="490.1" y1="834.5" x2="494.6" y2="834.5" stroke="#000" stroke-width="1.3"/>
<text transform="translate(489.10,839.20) scale(0.92,1)" x="0" y="0" font-family='"Liberation Serif", serif' font-weight="bold" font-size="14" fill="#111" text-anchor="end">10</text>
<line x1="490.1" y1="862.8" x2="494.6" y2="862.8" stroke="#000" stroke-width="1.3"/>
<text transform="translate(489.10,867.50) scale(0.92,1)" x="0" y="0" font-family='"Liberation Serif", serif' font-weight="bold" font-size="14" fill="#111" text-anchor="end">5</text>
<line x1="490.1" y1="891.1" x2="494.6" y2="891.1" stroke="#000" stroke-width="1.3"/>
<text transform="translate(489.10,895.80) scale(0.92,1)" x="0" y="0" font-family='"Liberation Serif", serif' font-weight="bold" font-size="14" fill="#111" text-anchor="end">0</text>
<line x1="517" y1="891.1" x2="517" y2="895.1" stroke="#000" stroke-width="1.3"/>
<text x="517" y="905.5" font-family='"Liberation Serif", serif' font-weight="bold" font-size="14" fill="#111" text-anchor="middle">A1</text>
<line x1="549.8" y1="891.1" x2="549.8" y2="895.1" stroke="#000" stroke-width="1.3"/>
<text x="549.8" y="905.5" font-family='"Liberation Serif", serif' font-weight="bold" font-size="14" fill="#111" text-anchor="middle">A2</text>
<line x1="582.3" y1="891.1" x2="582.3" y2="895.1" stroke="#000" stroke-width="1.3"/>
<text x="582.3" y="905.5" font-family='"Liberation Serif", serif' font-weight="bold" font-size="14" fill="#111" text-anchor="middle">B1</text>
<line x1="615" y1="891.1" x2="615" y2="895.1" stroke="#000" stroke-width="1.3"/>
<text x="615" y="905.5" font-family='"Liberation Serif", serif' font-weight="bold" font-size="14" fill="#111" text-anchor="middle">B2</text>
<path d="M507.10 865.40L527.10 865.40C527.10 865.83 527.15 867.12 527.10 868.00C527.05 868.88 527.08 869.88 526.80 870.70C526.52 871.52 525.50 872.03 525.40 872.90C525.30 873.77 526.07 875.40 526.20 875.90L508.00 875.90C508.13 875.40 508.90 873.77 508.80 872.90C508.70 872.03 507.68 871.52 507.40 870.70C507.12 869.88 507.15 868.88 507.10 868.00C507.05 867.12 507.10 865.83 507.10 865.40Z" fill="none" stroke="#000" stroke-width="2.3" stroke-linejoin="round"/>
<line x1="508.56" y1="870.3" x2="525.64" y2="870.3" stroke="#000" stroke-width="1.1" stroke-dasharray="2.2 1.2"/>
<path d="M544.80 761.40L555.20 761.40C555.00 763.00 554.60 767.40 554.00 771.00C553.40 774.60 552.03 779.67 551.60 783.00C551.17 786.33 551.37 787.93 551.40 791.00C551.43 794.07 551.30 798.07 551.80 801.40C552.30 804.73 553.33 807.40 554.40 811.00C555.47 814.60 557.33 819.67 558.20 823.00C559.07 826.33 559.37 828.00 559.60 831.00C559.83 834.00 559.60 839.33 559.60 841.00L540.40 841.00C540.40 839.33 540.17 834.00 540.40 831.00C540.63 828.00 540.93 826.33 541.80 823.00C542.67 819.67 544.53 814.60 545.60 811.00C546.67 807.40 547.70 804.73 548.20 801.40C548.70 798.07 548.57 794.07 548.60 791.00C548.63 787.93 548.83 786.33 548.40 783.00C547.97 779.67 546.60 774.60 546.00 771.00C545.40 767.40 545.00 763.00 544.80 761.40Z" fill="none" stroke="#000" stroke-width="2.3" stroke-linejoin="round"/>
<line x1="541.60" y1="832.6" x2="558.40" y2="832.6" stroke="#000" stroke-width="1.1" stroke-dasharray="2.2 1.2"/>
<text x="160" y="948" font-family='"Liberation Serif", serif' font-weight="bold" font-size="13.6" fill="#111" text-anchor="middle">miR395a-3p</text>
<path d="M92.6 965.8V1107.9H233.4" fill="none" stroke="#000" stroke-width="1.4"/>
<line x1="88.1" y1="966.4" x2="92.6" y2="966.4" stroke="#000" stroke-width="1.3"/>
<text transform="translate(87.10,971.10) scale(0.92,1)" x="0" y="0" font-family='"Liberation Serif", serif' font-weight="bold" font-size="14" fill="#111" text-anchor="end">15</text>
<line x1="88.1" y1="1013.6" x2="92.6" y2="1013.6" stroke="#000" stroke-width="1.3"/>
<text transform="translate(87.10,1018.30) scale(0.92,1)" x="0" y="0" font-family='"Liberation Serif", serif' font-weight="bold" font-size="14" fill="#111" text-anchor="end">10</text>
<line x1="88.1" y1="1060.8" x2="92.6" y2="1060.8" stroke="#000" stroke-width="1.3"/>
<text transform="translate(87.10,1065.50) scale(0.92,1)" x="0" y="0" font-family='"Liberation Serif", serif' font-weight="bold" font-size="14" fill="#111" text-anchor="end">5</text>
<line x1="88.1" y1="1107.9" x2="92.6" y2="1107.9" stroke="#000" stroke-width="1.3"/>
<text transform="translate(87.10,1112.60) scale(0.92,1)" x="0" y="0" font-family='"Liberation Serif", serif' font-weight="bold" font-size="14" fill="#111" text-anchor="end">0</text>
<line x1="113.9" y1="1107.9" x2="113.9" y2="1111.9" stroke="#000" stroke-width="1.3"/>
<text x="113.9" y="1123.5" font-family='"Liberation Serif", serif' font-weight="bold" font-size="14" fill="#111" text-anchor="middle">A1</text>
<line x1="146.8" y1="1107.9" x2="146.8" y2="1111.9" stroke="#000" stroke-width="1.3"/>
<text x="146.8" y="1123.5" font-family='"Liberation Serif", serif' font-weight="bold" font-size="14" fill="#111" text-anchor="middle">A2</text>
<line x1="180" y1="1107.9" x2="180" y2="1111.9" stroke="#000" stroke-width="1.3"/>
<text x="180" y="1123.5" font-family='"Liberation Serif", serif' font-weight="bold" font-size="14" fill="#111" text-anchor="middle">B1</text>
<line x1="212.8" y1="1107.9" x2="212.8" y2="1111.9" stroke="#000" stroke-width="1.3"/>
<text x="212.8" y="1123.5" font-family='"Liberation Serif", serif' font-weight="bold" font-size="14" fill="#111" text-anchor="middle">B2</text>
<text transform="translate(62.3,1036.2) rotate(-90)" x="0" y="0" font-family='"Liberation Serif", serif' font-weight="bold" font-size="13.4" fill="#111" text-anchor="middle">miRNA expression (TPM)</text>
<line x1="92.6" y1="1106.7" x2="233.4" y2="1106.7" stroke="#000" stroke-width="1.2" stroke-dasharray="0.8 2.2"/>
<path d="M106.70 974.30L121.90 974.30C121.68 975.92 121.02 980.65 120.60 984.00C120.18 987.35 119.52 990.73 119.40 994.40C119.28 998.07 119.62 1002.57 119.90 1006.00C120.18 1009.43 120.65 1012.05 121.10 1015.00C121.55 1017.95 122.08 1019.80 122.60 1023.70C123.12 1027.60 123.93 1033.52 124.20 1038.40C124.47 1043.28 124.25 1049.07 124.20 1053.00C124.15 1056.93 124.03 1059.55 123.90 1062.00C123.77 1064.45 123.48 1066.75 123.40 1067.70L105.20 1067.70C105.12 1066.75 104.83 1064.45 104.70 1062.00C104.57 1059.55 104.45 1056.93 104.40 1053.00C104.35 1049.07 104.13 1043.28 104.40 1038.40C104.67 1033.52 105.48 1027.60 106.00 1023.70C106.52 1019.80 107.05 1017.95 107.50 1015.00C107.95 1012.05 108.42 1009.43 108.70 1006.00C108.98 1002.57 109.32 998.07 109.20 994.40C109.08 990.73 108.42 987.35 108.00 984.00C107.58 980.65 106.92 975.92 106.70 974.30Z" fill="none" stroke="#000" stroke-width="2.1" stroke-linejoin="round"/>
<line x1="106.32" y1="1031.8" x2="122.28" y2="1031.8" stroke="#888" stroke-width="1.4"/>
<path d="M174 1094.2H186L184 1097.5L191.5 1100.3V1102.3H169V1100.3L176 1097.5Z" fill="#000"/>
<rect x="178.6" y="1096.3" width="2.8" height="3.6" fill="#fff"/>
<path d="M205 1104H219.5L227 1108.8H197.6Z" fill="#000" stroke="#000" stroke-width="1"/>
<text x="370" y="948" font-family='"Liberation Serif", serif' font-weight="bold" font-size="13.6" fill="#111" text-anchor="middle">N-miR40-3p</text>
<path d="M294.6 967.6999999999999V1109.5H437.2" fill="none" stroke="#000" stroke-width="1.4"/>
<line x1="290.1" y1="968.3" x2="294.6" y2="968.3" stroke="#000" stroke-width="1.3"/>
<text transform="translate(289.10,973.00) scale(0.92,1)" x="0" y="0" font-family='"Liberation Serif", serif' font-weight="bold" font-size="14" fill="#111" text-anchor="end">150</text>
<line x1="290.1" y1="1015.4" x2="294.6" y2="1015.4" stroke="#000" stroke-width="1.3"/>
<text transform="translate(289.10,1020.10) scale(0.92,1)" x="0" y="0" font-family='"Liberation Serif", serif' font-weight="bold" font-size="14" fill="#111" text-anchor="end">100</text>
<line x1="290.1" y1="1062.4" x2="294.6" y2="1062.4" stroke="#000" stroke-width="1.3"/>
<text transform="translate(289.10,1067.10) scale(0.92,1)" x="0" y="0" font-family='"Liberation Serif", serif' font-weight="bold" font-size="14" fill="#111" text-anchor="end">50</text>
<line x1="290.1" y1="1109.5" x2="294.6" y2="1109.5" stroke="#000" stroke-width="1.3"/>
<text transform="translate(289.10,1114.20) scale(0.92,1)" x="0" y="0" font-family='"Liberation Serif", serif' font-weight="bold" font-size="14" fill="#111" text-anchor="end">0</text>
<line x1="316.6" y1="1109.5" x2="316.6" y2="1113.5" stroke="#000" stroke-width="1.3"/>
<text x="316.6" y="1123.5" font-family='"Liberation Serif", serif' font-weight="bold" font-size="14" fill="#111" text-anchor="middle">A1</text>
<line x1="349.5" y1="1109.5" x2="349.5" y2="1113.5" stroke="#000" stroke-width="1.3"/>
<text x="349.5" y="1123.5" font-family='"Liberation Serif", serif' font-weight="bold" font-size="14" fill="#111" text-anchor="middle">A2</text>
<line x1="382.3" y1="1109.5" x2="382.3" y2="1113.5" stroke="#000" stroke-width="1.3"/>
<text x="382.3" y="1123.5" font-family='"Liberation Serif", serif' font-weight="bold" font-size="14" fill="#111" text-anchor="middle">B1</text>
<line x1="415" y1="1109.5" x2="415" y2="1113.5" stroke="#000" stroke-width="1.3"/>
<text x="415" y="1123.5" font-family='"Liberation Serif", serif' font-weight="bold" font-size="14" fill="#111" text-anchor="middle">B2</text>
<path d="M311.20 1001.80L323.00 1001.80C322.78 1002.33 322.32 1003.97 321.70 1005.00C321.08 1006.03 319.82 1007.17 319.30 1008.00C318.78 1008.83 318.60 1009.33 318.60 1010.00C318.60 1010.67 318.93 1011.33 319.30 1012.00C319.68 1012.67 319.88 1013.17 320.85 1014.00C321.82 1014.83 324.12 1016.17 325.10 1017.00C326.08 1017.83 326.37 1018.42 326.70 1019.00C327.03 1019.58 327.03 1020.25 327.10 1020.50L307.10 1020.50C307.17 1020.25 307.17 1019.58 307.50 1019.00C307.83 1018.42 308.12 1017.83 309.10 1017.00C310.08 1016.17 312.38 1014.83 313.35 1014.00C314.32 1013.17 314.53 1012.67 314.90 1012.00C315.28 1011.33 315.60 1010.67 315.60 1010.00C315.60 1009.33 315.42 1008.83 314.90 1008.00C314.38 1007.17 313.12 1006.03 312.50 1005.00C311.88 1003.97 311.42 1002.33 311.20 1001.80Z" fill="none" stroke="#000" stroke-width="2.3" stroke-linejoin="round"/>
<line x1="309.02" y1="1018.6" x2="325.18" y2="1018.6" stroke="#000" stroke-width="1.1" stroke-dasharray="2.2 1.2"/>
<path d="M336.1 1105.7Q339 1103.8 343 1103.8H356Q360 1103.8 362.9 1105.7Q360 1107.4 356 1107.4H343Q339 1107.4 336.1 1105.7Z" fill="#000" stroke="#000" stroke-width="0.8"/>
<text x="569.4" y="948" font-family='"Liberation Serif", serif' font-weight="bold" font-size="13.6" fill="#111" text-anchor="middle">miR156a-3p</text>
<path d="M494.6 968.1V1110.2H637.2" fill="none" stroke="#000" stroke-width="1.4"/>
<line x1="490.1" y1="968.7" x2="494.6" y2="968.7" stroke="#000" stroke-width="1.3"/>
<text transform="translate(489.10,973.40) scale(0.92,1)" x="0" y="0" font-family='"Liberation Serif", serif' font-weight="bold" font-size="14" fill="#111" text-anchor="end">2000</text>
<line x1="490.1" y1="1004.1" x2="494.6" y2="1004.1" stroke="#000" stroke-width="1.3"/>
<text transform="translate(489.10,1008.80) scale(0.92,1)" x="0" y="0" font-family='"Liberation Serif", serif' font-weight="bold" font-size="14" fill="#111" text-anchor="end">1500</text>
<line x1="490.1" y1="1039.5" x2="494.6" y2="1039.5" stroke="#000" stroke-width="1.3"/>
<text transform="translate(489.10,1044.20) scale(0.92,1)" x="0" y="0" font-family='"Liberation Serif", serif' font-weight="bold" font-size="14" fill="#111" text-anchor="end">1000</text>
<line x1="490.1" y1="1074.8" x2="494.6" y2="1074.8" stroke="#000" stroke-width="1.3"/>
<text transform="translate(489.10,1079.50) scale(0.92,1)" x="0" y="0" font-family='"Liberation Serif", serif' font-weight="bold" font-size="14" fill="#111" text-anchor="end">500</text>
<line x1="490.1" y1="1110.2" x2="494.6" y2="1110.2" stroke="#000" stroke-width="1.3"/>
<text transform="translate(489.10,1114.90) scale(0.92,1)" x="0" y="0" font-family='"Liberation Serif", serif' font-weight="bold" font-size="14" fill="#111" text-anchor="end">0</text>
<line x1="517" y1="1110.2" x2="517" y2="1114.2" stroke="#000" stroke-width="1.3"/>
<text x="517" y="1123.5" font-family='"Liberation Serif", serif' font-weight="bold" font-size="14" fill="#111" text-anchor="middle">A1</text>
<line x1="549.8" y1="1110.2" x2="549.8" y2="1114.2" stroke="#000" stroke-width="1.3"/>
<text x="549.8" y="1123.5" font-family='"Liberation Serif", serif' font-weight="bold" font-size="14" fill="#111" text-anchor="middle">A2</text>
<line x1="582.3" y1="1110.2" x2="582.3" y2="1114.2" stroke="#000" stroke-width="1.3"/>
<text x="582.3" y="1123.5" font-family='"Liberation Serif", serif' font-weight="bold" font-size="14" fill="#111" text-anchor="middle">B1</text>
<line x1="615" y1="1110.2" x2="615" y2="1114.2" stroke="#000" stroke-width="1.3"/>
<text x="615" y="1123.5" font-family='"Liberation Serif", serif' font-weight="bold" font-size="14" fill="#111" text-anchor="middle">B2</text>
<path d="M507.80 982.50L526.80 982.50C526.88 983.42 527.17 986.13 527.30 988.00C527.43 989.87 527.60 991.87 527.60 993.70C527.60 995.53 527.48 997.40 527.30 999.00C527.12 1000.60 527.10 1001.07 526.50 1003.30C525.90 1005.53 524.35 1009.33 523.70 1012.40C523.05 1015.47 522.53 1018.60 522.60 1021.70C522.67 1024.80 523.72 1028.20 524.10 1031.00C524.48 1033.80 524.77 1037.25 524.90 1038.50L509.70 1038.50C509.83 1037.25 510.12 1033.80 510.50 1031.00C510.88 1028.20 511.93 1024.80 512.00 1021.70C512.07 1018.60 511.55 1015.47 510.90 1012.40C510.25 1009.33 508.70 1005.53 508.10 1003.30C507.50 1001.07 507.48 1000.60 507.30 999.00C507.12 997.40 507.00 995.53 507.00 993.70C507.00 991.87 507.17 989.87 507.30 988.00C507.43 986.13 507.72 983.42 507.80 982.50Z" fill="none" stroke="#000" stroke-width="2.3" stroke-linejoin="round"/>
<line x1="509.45" y1="1003.8" x2="525.15" y2="1003.8" stroke="#000" stroke-width="1.1" stroke-dasharray="2.2 1.2"/>
<path d="M543.00 1068.20L557.00 1068.20C556.92 1068.50 556.08 1069.45 556.50 1070.00C556.92 1070.55 558.83 1070.95 559.50 1071.50C560.17 1072.05 560.33 1073.00 560.50 1073.30L539.50 1073.30C539.67 1073.00 539.83 1072.05 540.50 1071.50C541.17 1070.95 543.08 1070.55 543.50 1070.00C543.92 1069.45 543.08 1068.50 543.00 1068.20Z" fill="none" stroke="#000" stroke-width="2.3" stroke-linejoin="round"/>
<line x1="543.50" y1="1070.6" x2="556.50" y2="1070.6" stroke="#000" stroke-width="1.1" stroke-dasharray="2.2 1.2"/>
<path d="M576.50 1043.60L588.50 1043.60C588.33 1044.17 588.08 1045.77 587.50 1047.00C586.92 1048.23 585.53 1049.90 585.00 1051.00C584.47 1052.10 584.13 1052.60 584.30 1053.60C584.47 1054.60 585.17 1055.80 586.00 1057.00C586.83 1058.20 588.30 1059.63 589.30 1060.80C590.30 1061.97 591.43 1063.00 592.00 1064.00C592.57 1065.00 592.58 1066.33 592.70 1066.80L572.30 1066.80C572.42 1066.33 572.43 1065.00 573.00 1064.00C573.57 1063.00 574.70 1061.97 575.70 1060.80C576.70 1059.63 578.17 1058.20 579.00 1057.00C579.83 1055.80 580.53 1054.60 580.70 1053.60C580.87 1052.60 580.53 1052.10 580.00 1051.00C579.47 1049.90 578.08 1048.23 577.50 1047.00C576.92 1045.77 576.67 1044.17 576.50 1043.60Z" fill="none" stroke="#000" stroke-width="2.3" stroke-linejoin="round"/>
<line x1="573.88" y1="1065.3" x2="591.12" y2="1065.3" stroke="#000" stroke-width="1.1" stroke-dasharray="2.2 1.2"/>
<path d="M605.20 1045.00L625.80 1045.00C625.53 1045.72 625.08 1047.97 624.20 1049.30C623.32 1050.63 621.65 1051.68 620.50 1053.00C619.35 1054.32 617.70 1056.03 617.30 1057.20C616.90 1058.37 617.63 1058.93 618.10 1060.00C618.57 1061.07 619.58 1062.12 620.10 1063.60C620.62 1065.08 621.02 1068.02 621.20 1068.90L609.80 1068.90C609.98 1068.02 610.38 1065.08 610.90 1063.60C611.42 1062.12 612.43 1061.07 612.90 1060.00C613.37 1058.93 614.10 1058.37 613.70 1057.20C613.30 1056.03 611.65 1054.32 610.50 1053.00C609.35 1051.68 607.68 1050.63 606.80 1049.30C605.92 1047.97 605.47 1045.72 605.20 1045.00Z" fill="none" stroke="#000" stroke-width="2.3" stroke-linejoin="round"/>
</svg></body></html>
